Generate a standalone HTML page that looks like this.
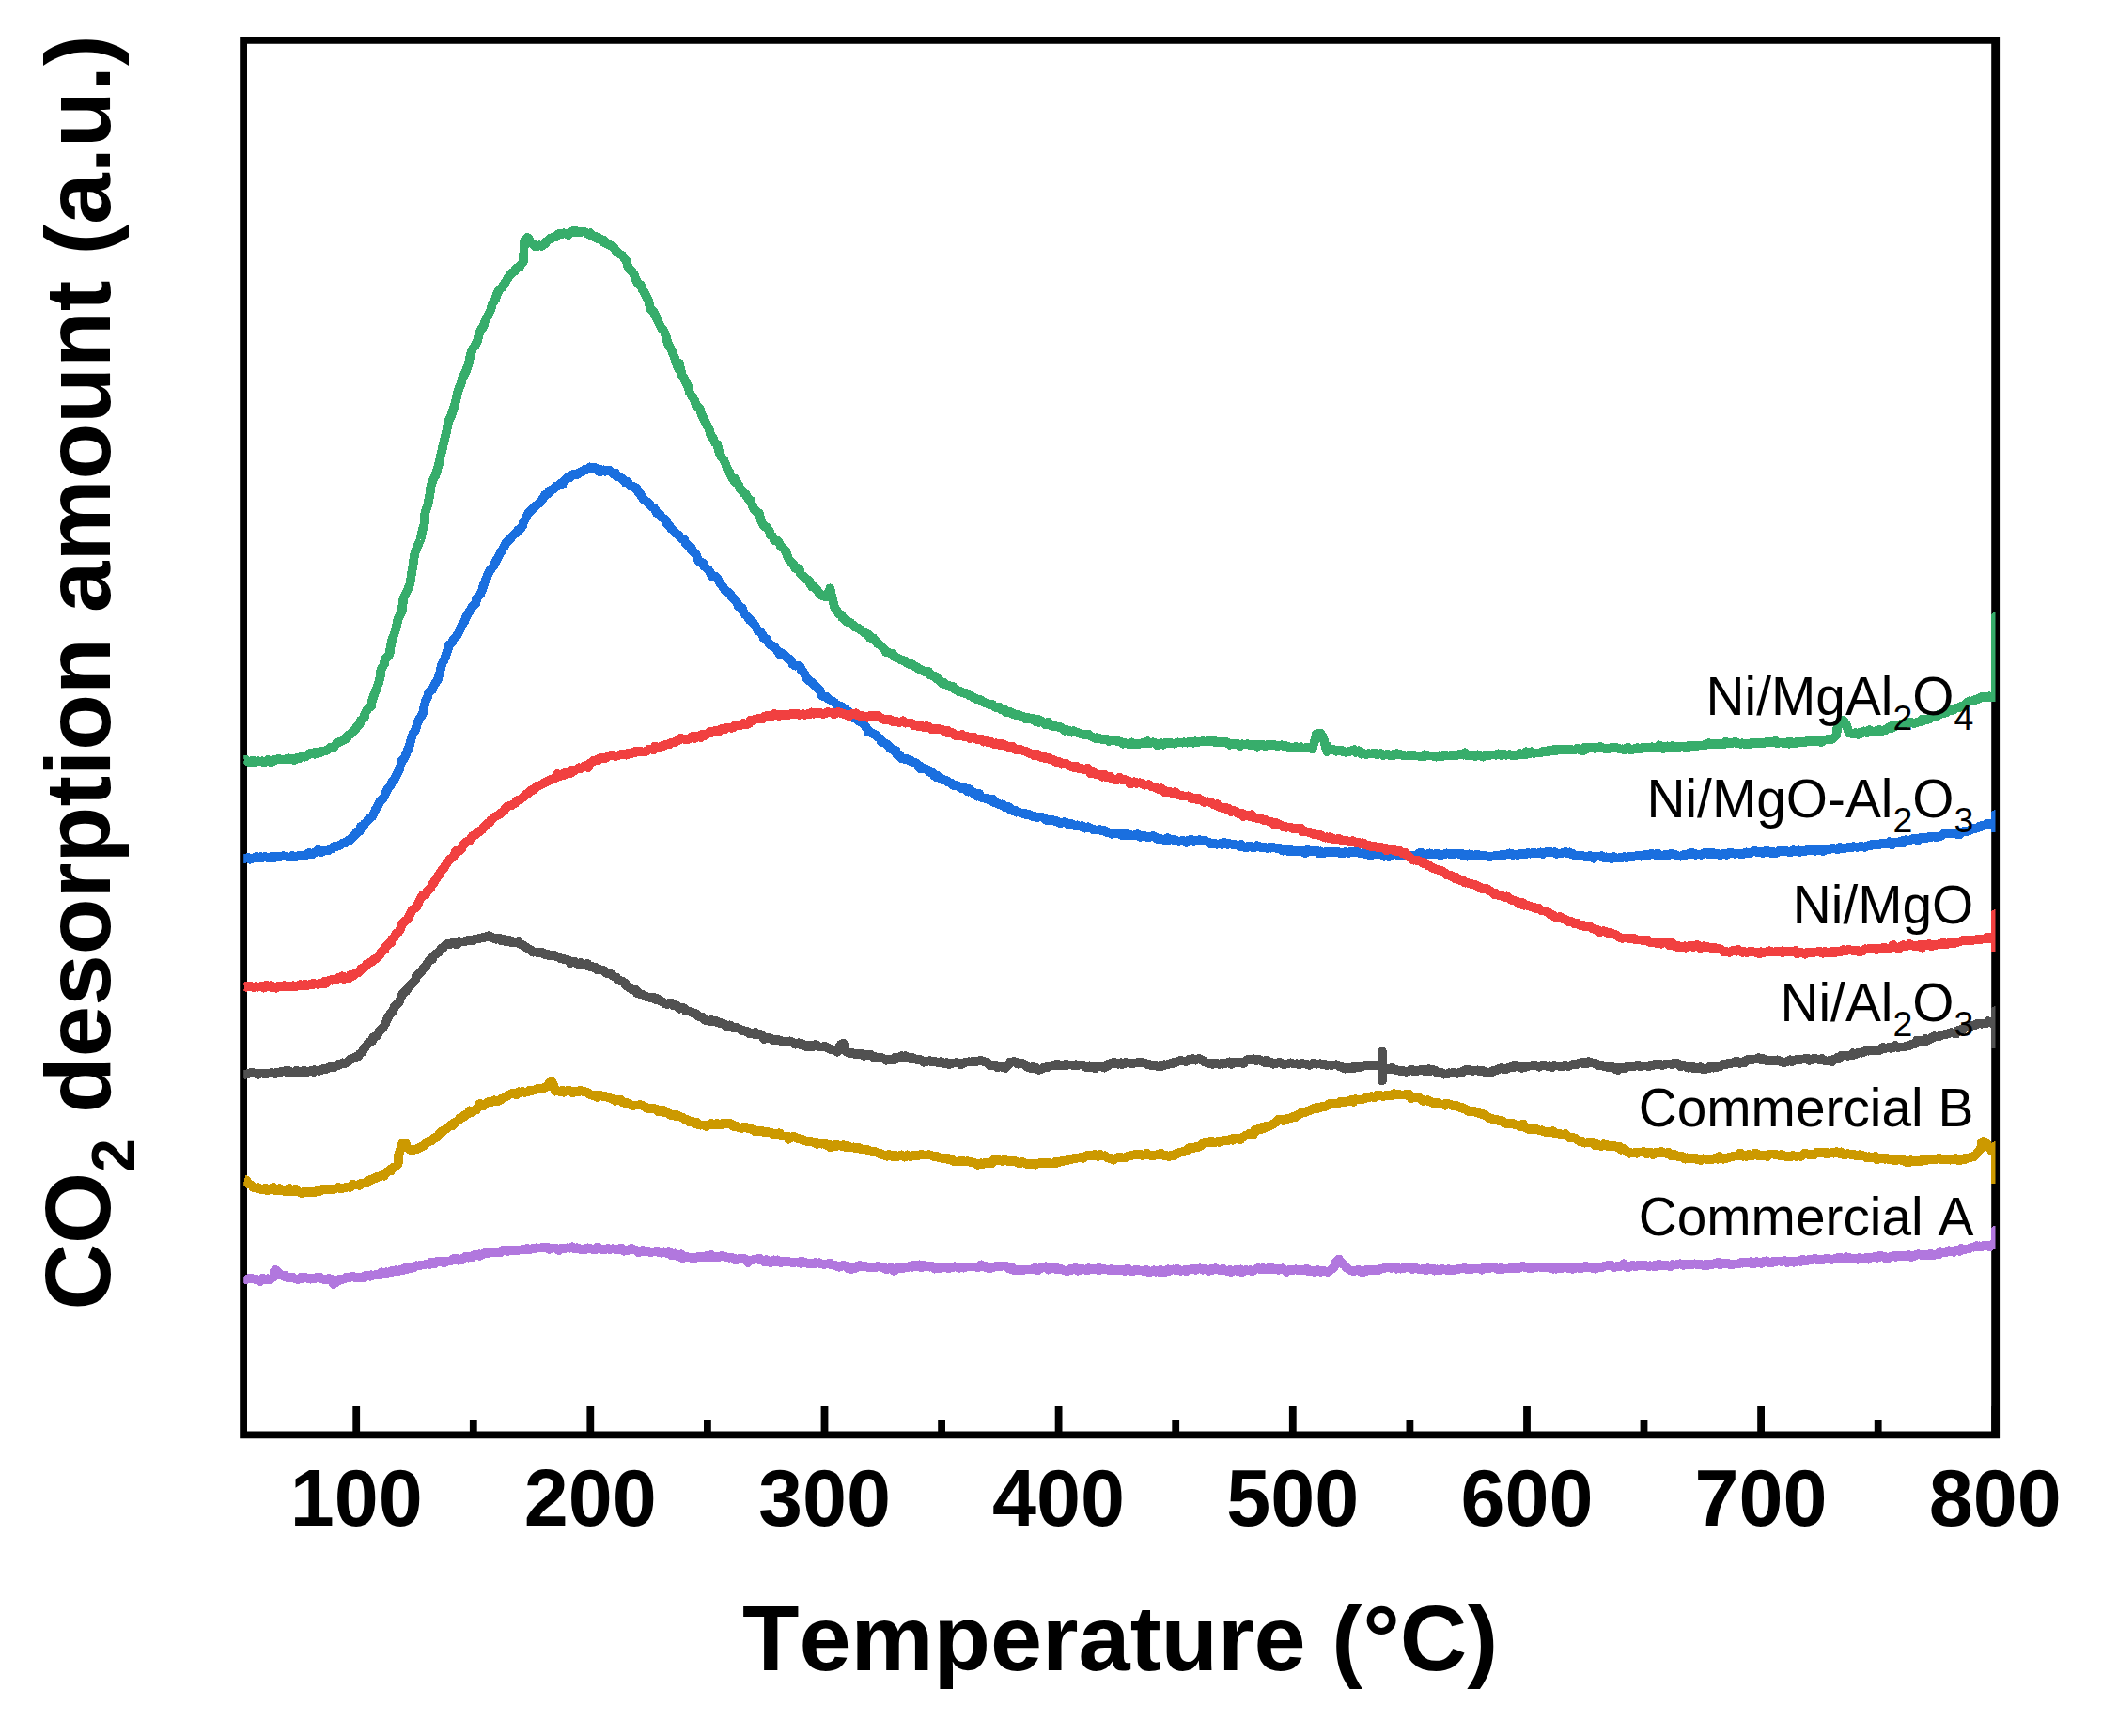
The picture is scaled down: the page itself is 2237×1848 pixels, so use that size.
<!DOCTYPE html>
<html lang="en">
<head>
<meta charset="utf-8">
<title>CO2-TPD profiles</title>
<style>
html,body{margin:0;padding:0;background:#fff;}
body{width:2237px;height:1848px;overflow:hidden;}
svg{display:block;font-kerning:none;font-family:"Liberation Sans",Arial,Helvetica,sans-serif;}
.curves polyline{fill:none;stroke-width:9.7;stroke-linejoin:round;stroke-linecap:butt;}
.ticks line{stroke:#000;stroke-width:7.8;}
.tl text{font-weight:bold;font-size:84.5px;text-anchor:middle;}
.lab text{font-size:56.8px;text-anchor:end;}
.lab .sb{font-size:37.5px;}
.title{font-weight:bold;font-size:99px;}
.title .sb{font-size:64px;}
.yt{font-size:97.9px;}
</style>
</head>
<body>
<svg width="2237" height="1848" viewBox="0 0 2237 1848">
<rect x="0" y="0" width="2237" height="1848" fill="#ffffff"/>
<defs><clipPath id="plot"><rect x="259.2" y="43.0" width="1864.3" height="1484.0"/></clipPath></defs>
<path d="M255.2 38.9H2128.1V1531.2H255.2Z M263 46.8V1523.4H2119.2V46.8Z" fill="#000" fill-rule="evenodd"/>
<g class="ticks">
<line x1="379.2" y1="1497.0" x2="379.2" y2="1527.0"/>
<line x1="503.8" y1="1512.0" x2="503.8" y2="1527.0"/>
<line x1="628.3" y1="1497.0" x2="628.3" y2="1527.0"/>
<line x1="752.9" y1="1512.0" x2="752.9" y2="1527.0"/>
<line x1="877.5" y1="1497.0" x2="877.5" y2="1527.0"/>
<line x1="1002.1" y1="1512.0" x2="1002.1" y2="1527.0"/>
<line x1="1126.6" y1="1497.0" x2="1126.6" y2="1527.0"/>
<line x1="1251.2" y1="1512.0" x2="1251.2" y2="1527.0"/>
<line x1="1375.8" y1="1497.0" x2="1375.8" y2="1527.0"/>
<line x1="1500.4" y1="1512.0" x2="1500.4" y2="1527.0"/>
<line x1="1625.0" y1="1497.0" x2="1625.0" y2="1527.0"/>
<line x1="1749.5" y1="1512.0" x2="1749.5" y2="1527.0"/>
<line x1="1874.1" y1="1497.0" x2="1874.1" y2="1527.0"/>
<line x1="1998.7" y1="1512.0" x2="1998.7" y2="1527.0"/>
<line x1="2123.2" y1="1497.0" x2="2123.2" y2="1527.0"/>
</g>
<g class="curves" clip-path="url(#plot)" shape-rendering="crispEdges">
<polyline points="258.5,1143.5 261.4,1143.8 264.0,1143.1 266.2,1142.1 267.3,1142.2 269.6,1142.1 271.8,1142.7 274.9,1143.9 275.4,1142.5 279.9,1142.6 280.9,1143.0 282.9,1142.7 285.8,1142.7 288.5,1142.0 290.2,1142.4 292.9,1143.0 294.5,1141.4 297.5,1141.8 299.7,1140.4 300.9,1140.6 304.2,1140.1 305.5,1141.2 307.7,1140.1 309.2,1141.6 311.8,1141.8 314.7,1141.7 315.5,1139.5 319.1,1141.1 321.0,1141.5 323.2,1141.6 323.7,1140.0 327.3,1140.9 330.1,1140.5 331.3,1139.9 334.1,1141.0 334.5,1139.2 338.9,1139.7 340.1,1139.7 343.4,1138.3 343.7,1138.2 347.7,1137.8 349.2,1137.0 352.2,1135.3 353.2,1135.7 355.6,1136.3 359.8,1133.0 359.8,1134.2 362.1,1133.1 364.6,1131.4 366.3,1132.4 370.0,1130.3 372.6,1127.8 373.1,1127.8 374.6,1127.3 378.8,1125.1 381.0,1124.5 383.0,1121.8 385.4,1120.0 386.2,1118.5 388.9,1114.4 390.2,1112.8 392.4,1109.9 396.3,1108.2 397.3,1104.3 401.6,1102.2 402.3,1099.6 404.0,1097.7 407.2,1094.6 410.1,1089.6 411.3,1086.9 412.3,1084.2 415.7,1078.4 418.6,1075.9 419.5,1072.2 421.5,1069.7 424.9,1066.3 426.5,1062.1 427.8,1058.8 430.5,1055.9 432.5,1054.8 435.4,1050.0 437.5,1047.7 440.4,1045.5 442.3,1042.2 442.9,1039.3 446.5,1035.9 449.0,1033.4 450.9,1030.2 453.5,1029.0 454.6,1025.9 456.5,1022.8 460.1,1021.2 460.9,1018.2 462.3,1016.8 466.7,1013.8 467.7,1012.5 470.2,1009.2 471.6,1008.8 473.9,1006.0 476.2,1004.6 478.9,1005.0 481.7,1003.8 482.0,1004.2 486.3,1005.2 487.2,1002.3 489.5,1002.3 492.9,1002.6 494.5,1002.6 495.7,1001.4 500.3,1000.9 500.6,1001.0 503.6,1000.8 505.7,999.3 508.8,999.6 509.7,999.2 512.9,998.2 513.9,998.6 517.4,997.0 518.3,997.3 520.7,996.0 524.5,998.2 525.6,998.6 527.7,999.8 531.4,998.5 532.3,999.7 533.6,1001.1 536.9,999.7 537.8,1002.2 541.6,1000.8 543.8,1003.0 544.8,1002.0 547.0,1003.3 549.7,1002.8 551.8,1002.0 553.3,1004.8 556.6,1006.3 557.0,1006.7 560.3,1008.7 562.5,1010.4 564.8,1011.1 567.4,1013.7 568.5,1013.3 572.0,1013.9 573.7,1013.7 575.5,1014.2 577.2,1013.9 579.6,1016.0 582.9,1015.6 584.1,1017.1 587.0,1017.1 589.9,1017.0 592.1,1018.2 594.7,1018.6 595.6,1019.8 597.2,1020.4 600.9,1021.3 602.6,1021.4 605.4,1022.6 606.8,1025.2 609.8,1023.6 611.8,1023.9 613.9,1025.4 616.0,1026.7 618.1,1025.1 620.2,1026.5 622.4,1026.7 625.1,1026.0 626.2,1028.7 630.0,1028.8 630.9,1029.8 633.9,1029.9 635.3,1032.2 637.4,1031.9 641.2,1032.9 641.8,1033.0 643.3,1033.5 645.9,1036.3 648.4,1036.4 652.3,1038.2 653.1,1039.4 655.9,1040.5 656.7,1042.0 659.8,1043.9 662.3,1044.8 665.3,1046.4 665.7,1048.6 668.8,1050.9 670.8,1052.1 672.1,1053.1 675.0,1053.7 677.0,1054.0 677.8,1057.1 682.0,1058.2 684.2,1058.8 685.7,1059.8 687.3,1060.9 691.4,1061.7 692.8,1062.5 695.5,1061.7 698.0,1064.3 698.8,1062.6 702.0,1064.8 703.4,1065.7 705.8,1067.1 707.9,1068.5 710.2,1069.0 713.2,1067.5 714.7,1067.7 716.7,1070.2 718.8,1069.7 721.4,1071.8 722.8,1073.7 725.2,1072.5 727.8,1073.1 729.6,1075.9 732.1,1076.5 734.0,1076.8 738.0,1078.3 739.7,1078.7 741.3,1079.5 743.2,1082.0 746.9,1083.0 747.8,1082.9 749.7,1085.8 752.2,1086.2 754.4,1086.8 757.4,1086.0 758.6,1087.2 762.3,1087.1 762.4,1087.9 765.7,1089.1 766.7,1088.9 770.9,1090.4 771.6,1091.3 774.0,1093.0 776.8,1091.4 779.3,1094.0 779.8,1094.1 782.6,1094.5 784.0,1094.0 787.3,1095.3 789.3,1097.0 791.4,1096.9 793.3,1097.9 795.7,1098.2 797.7,1100.3 800.8,1100.1 803.4,1101.3 803.7,1098.9 806.9,1101.5 808.9,1100.7 811.7,1103.5 812.9,1106.1 815.7,1105.4 817.3,1104.6 820.7,1105.5 822.5,1107.5 824.5,1106.7 827.1,1106.8 828.8,1107.3 830.1,1107.8 833.8,1108.9 835.8,1108.9 837.7,1109.1 840.7,1108.3 843.1,1109.9 843.6,1109.6 846.1,1111.7 849.9,1110.3 852.0,1111.8 852.7,1112.3 854.6,1111.4 857.2,1114.0 859.5,1114.1 860.9,1112.5 864.2,1114.0 865.5,1114.0 867.8,1111.8 871.4,1114.1 872.5,1114.3 875.1,1114.5 877.8,1113.9 880.2,1115.3 881.6,1115.8 884.0,1117.2 885.6,1117.5 889.6,1118.1 891.1,1119.8 892.0,1116.0 895.0,1111.7 897.7,1110.7 899.7,1118.6 902.9,1120.8 904.8,1121.0 905.6,1121.0 908.1,1121.2 909.5,1122.0 912.8,1121.7 914.9,1121.9 918.9,1122.4 919.3,1123.9 919.9,1123.1 923.1,1122.7 925.9,1122.8 927.1,1123.1 929.6,1125.4 932.1,1125.3 934.8,1126.1 936.7,1126.2 938.4,1126.2 941.8,1127.5 943.0,1128.7 945.3,1127.8 946.8,1128.1 949.4,1128.1 952.7,1127.8 953.3,1125.4 956.6,1125.5 959.3,1124.2 960.7,1125.1 963.4,1124.1 964.6,1125.6 968.5,1126.8 970.6,1125.8 972.2,1126.4 973.0,1127.5 975.7,1127.8 979.3,1127.9 982.0,1129.2 983.2,1130.8 986.1,1129.5 987.0,1129.9 989.5,1129.0 991.8,1130.6 994.3,1129.6 995.1,1129.8 999.1,1131.5 1001.5,1130.0 1002.0,1131.6 1004.1,1131.9 1007.4,1131.1 1008.9,1131.8 1009.9,1133.2 1014.4,1131.5 1016.1,1131.5 1017.9,1131.1 1021.9,1132.2 1022.7,1133.3 1024.3,1132.8 1027.1,1130.9 1028.5,1130.7 1030.9,1130.3 1033.9,1130.5 1035.4,1129.9 1037.7,1130.0 1041.4,1129.5 1043.0,1129.1 1045.2,1129.3 1047.2,1130.1 1049.3,1130.7 1052.2,1132.3 1053.4,1134.4 1056.9,1134.2 1057.1,1134.6 1059.8,1133.8 1061.2,1136.2 1064.2,1135.2 1067.0,1135.9 1069.8,1137.0 1070.5,1135.9 1073.2,1133.6 1075.1,1130.5 1077.1,1130.6 1079.0,1129.9 1082.0,1130.6 1083.0,1132.7 1086.5,1132.3 1088.6,1132.2 1090.3,1132.9 1092.3,1135.2 1094.2,1136.1 1098.7,1137.5 1098.7,1135.9 1102.9,1136.8 1104.4,1138.8 1105.9,1138.7 1107.6,1138.5 1111.3,1136.4 1114.0,1136.6 1114.3,1135.5 1117.0,1134.6 1120.1,1134.3 1121.8,1133.4 1125.2,1132.8 1125.6,1134.5 1128.6,1133.7 1129.5,1133.7 1134.1,1134.5 1134.3,1132.7 1135.5,1133.3 1139.1,1133.6 1141.3,1133.8 1144.9,1133.2 1145.6,1134.2 1148.0,1133.7 1150.6,1133.5 1153.5,1134.0 1154.6,1135.6 1157.5,1136.1 1159.4,1134.3 1161.0,1136.6 1163.5,1136.2 1165.6,1137.2 1167.2,1135.3 1170.8,1135.3 1171.2,1134.4 1175.2,1136.6 1177.3,1133.8 1178.7,1134.9 1180.5,1132.2 1183.0,1132.5 1185.7,1130.7 1188.1,1132.0 1190.0,1132.7 1192.7,1131.3 1193.8,1133.1 1196.6,1132.5 1197.5,1131.0 1201.3,1131.7 1203.1,1131.7 1204.9,1132.1 1208.2,1131.6 1209.8,1131.5 1210.1,1131.2 1214.0,1130.8 1215.2,1130.8 1219.1,1132.1 1222.3,1133.5 1222.4,1132.4 1225.1,1134.2 1227.0,1133.8 1229.6,1133.7 1232.1,1135.1 1234.7,1134.1 1235.3,1135.2 1239.3,1133.3 1239.7,1133.9 1242.8,1133.2 1245.6,1131.9 1247.5,1132.4 1248.5,1131.1 1250.9,1131.3 1253.3,1130.2 1255.8,1128.8 1258.8,1129.4 1259.3,1129.6 1262.7,1129.8 1265.0,1128.1 1267.2,1128.5 1269.3,1127.1 1272.3,1128.7 1273.7,1127.5 1276.2,1127.0 1278.2,1128.2 1280.9,1129.5 1281.3,1130.1 1285.3,1131.8 1286.4,1132.6 1288.6,1132.1 1290.3,1132.9 1291.9,1132.0 1295.1,1132.0 1297.1,1132.9 1300.1,1132.1 1301.0,1132.7 1305.2,1131.6 1306.6,1131.2 1308.4,1130.4 1310.3,1133.0 1312.4,1130.9 1314.4,1131.1 1317.0,1130.8 1319.6,1130.8 1321.7,1130.6 1323.0,1132.2 1326.0,1129.1 1327.8,1128.1 1330.7,1128.0 1334.1,1127.2 1335.4,1128.7 1337.0,1129.1 1338.3,1127.8 1340.6,1128.1 1342.6,1129.4 1346.5,1131.2 1347.7,1128.4 1350.4,1131.5 1352.2,1130.6 1354.9,1132.7 1358.0,1131.5 1358.7,1132.0 1361.2,1130.9 1363.0,1131.2 1366.4,1133.3 1367.3,1132.9 1369.4,1132.6 1371.4,1132.1 1373.6,1131.3 1377.1,1132.6 1380.5,1132.2 1380.8,1132.7 1384.1,1132.8 1385.8,1132.0 1387.0,1132.5 1389.8,1132.4 1392.0,1133.6 1393.9,1133.9 1397.5,1131.8 1398.0,1132.1 1401.3,1132.7 1403.4,1132.5 1405.0,1132.3 1407.7,1133.3 1410.4,1133.0 1412.1,1134.0 1414.5,1133.4 1416.9,1134.0 1417.2,1133.8 1421.8,1133.3 1424.6,1134.0 1425.9,1135.4 1428.1,1135.9 1428.6,1136.7 1431.7,1137.7 1433.4,1136.4 1435.8,1137.5 1439.1,1136.2 1440.0,1137.1 1442.7,1136.7 1443.7,1134.9 1447.1,1136.3 1449.5,1135.6 1451.1,1134.3 1453.3,1134.2 1457.3,1134.2 1457.4,1133.6 1459.7,1133.7 1462.0,1133.9 1465.6,1133.8 1468.5,1132.7 1469.4,1134.1 1470.9,1134.5 1470.9,1119.4 1470.9,1150.5 1470.9,1138.5 1473.3,1138.4 1476.5,1138.1 1477.4,1138.6 1481.2,1137.0 1483.4,1138.8 1484.6,1138.7 1487.3,1139.2 1489.5,1140.0 1492.3,1139.4 1492.7,1139.9 1496.4,1140.9 1497.5,1140.6 1499.5,1140.1 1502.3,1138.6 1504.2,1140.1 1505.9,1140.3 1507.7,1140.1 1510.3,1139.6 1514.2,1138.4 1516.8,1140.5 1518.1,1139.8 1520.6,1138.1 1521.6,1140.4 1524.1,1138.6 1526.6,1139.3 1527.8,1140.5 1530.1,1142.5 1533.1,1141.5 1535.0,1142.6 1536.7,1143.7 1539.9,1143.5 1541.6,1142.3 1544.7,1142.5 1546.2,1141.8 1548.2,1142.3 1550.7,1142.9 1552.7,1142.2 1554.5,1141.3 1556.9,1141.0 1559.9,1139.0 1562.1,1138.9 1564.7,1139.5 1564.8,1139.4 1567.9,1139.8 1570.1,1139.5 1572.7,1139.3 1574.5,1140.4 1576.6,1140.0 1579.7,1140.3 1581.5,1142.4 1582.8,1142.3 1586.7,1142.0 1588.7,1139.9 1589.8,1140.2 1593.0,1138.9 1594.1,1138.3 1597.6,1137.2 1598.8,1137.7 1600.6,1138.5 1603.1,1138.2 1605.1,1136.6 1607.9,1136.1 1610.1,1136.5 1612.2,1133.4 1614.0,1135.2 1614.0,1135.6 1618.9,1135.8 1619.7,1136.9 1623.4,1136.0 1626.2,1135.2 1627.8,1134.5 1629.5,1134.6 1631.9,1133.4 1634.1,1133.8 1636.0,1134.6 1638.2,1135.8 1640.2,1134.2 1643.8,1134.1 1645.2,1134.4 1648.1,1135.2 1649.4,1134.3 1651.9,1135.9 1653.9,1134.0 1656.5,1134.6 1659.0,1134.7 1660.8,1135.4 1662.3,1135.6 1664.5,1134.0 1668.4,1134.5 1669.2,1135.2 1671.4,1134.0 1674.8,1132.6 1676.8,1133.6 1678.6,1132.4 1680.1,1132.0 1684.2,1130.8 1685.1,1132.1 1687.4,1130.9 1689.1,1132.0 1690.4,1130.2 1692.7,1130.7 1696.1,1131.8 1698.3,1131.8 1700.0,1133.5 1701.6,1134.2 1703.6,1133.5 1706.6,1134.9 1708.0,1135.2 1711.8,1136.4 1714.2,1135.6 1717.6,1136.5 1718.4,1138.0 1719.6,1138.6 1721.6,1138.9 1722.0,1137.0 1726.2,1136.8 1728.7,1137.5 1731.7,1135.8 1733.6,1134.6 1735.8,1135.4 1737.7,1135.4 1740.3,1134.4 1743.0,1133.4 1743.5,1133.9 1746.1,1135.6 1747.6,1134.4 1751.9,1134.6 1753.9,1134.9 1755.7,1134.8 1756.6,1133.8 1759.7,1133.8 1761.6,1132.7 1764.1,1133.6 1766.1,1132.4 1768.8,1134.1 1770.3,1133.4 1773.4,1132.5 1775.2,1132.4 1777.0,1132.6 1779.3,1133.1 1781.3,1131.5 1784.4,1132.0 1785.8,1132.3 1788.4,1135.2 1790.1,1134.2 1791.6,1133.9 1795.4,1134.9 1796.3,1136.7 1799.7,1135.2 1801.7,1135.8 1802.4,1137.2 1805.1,1136.7 1807.6,1137.0 1809.6,1136.2 1811.6,1138.0 1815.1,1138.1 1816.6,1137.3 1819.3,1136.9 1820.9,1134.8 1823.6,1136.6 1825.1,1135.5 1827.8,1135.8 1830.4,1135.5 1832.2,1133.8 1834.1,1132.4 1835.8,1133.5 1838.9,1132.1 1841.2,1132.2 1843.0,1131.6 1844.9,1131.2 1848.0,1129.4 1851.5,1131.9 1851.8,1130.5 1854.4,1130.8 1856.7,1131.4 1856.8,1129.3 1860.9,1127.5 1862.5,1128.1 1866.2,1127.7 1867.2,1127.6 1869.1,1127.6 1871.6,1126.1 1874.1,1128.0 1875.8,1126.6 1878.4,1128.6 1879.7,1128.8 1882.6,1128.6 1885.5,1129.4 1888.6,1129.2 1889.9,1129.0 1891.8,1128.3 1894.6,1129.8 1896.7,1130.8 1899.4,1130.9 1901.2,1130.5 1902.5,1129.5 1905.0,1128.3 1907.1,1130.0 1909.4,1128.6 1911.5,1128.1 1913.1,1128.0 1914.3,1128.1 1917.5,1127.6 1918.8,1127.5 1922.4,1126.9 1924.6,1127.1 1925.6,1129.0 1929.5,1127.2 1931.8,1127.1 1933.5,1127.4 1936.8,1128.1 1939.1,1127.0 1939.2,1127.8 1942.9,1129.4 1944.7,1129.5 1946.9,1129.1 1949.5,1130.2 1950.5,1128.0 1952.8,1127.8 1954.8,1126.1 1957.1,1126.9 1959.7,1123.4 1961.0,1123.6 1963.5,1123.3 1966.8,1123.9 1968.6,1123.4 1971.1,1123.5 1971.7,1121.1 1974.7,1122.5 1977.0,1121.0 1979.6,1120.5 1981.4,1120.8 1984.7,1119.0 1986.2,1117.8 1988.4,1118.7 1990.6,1117.4 1993.3,1118.1 1994.7,1118.4 1998.0,1117.9 1999.7,1118.5 2001.7,1116.6 2003.8,1115.0 2006.4,1115.8 2008.9,1115.2 2011.1,1114.8 2012.9,1115.9 2015.4,1114.8 2017.1,1113.1 2020.1,1115.0 2021.4,1114.5 2022.1,1114.6 2026.7,1114.3 2028.1,1114.2 2029.4,1113.3 2032.3,1113.1 2034.0,1111.9 2038.3,1111.0 2039.3,1110.4 2040.1,1107.8 2043.8,1108.7 2045.3,1107.9 2049.1,1107.7 2049.3,1105.8 2050.6,1107.9 2054.4,1106.0 2056.4,1104.2 2058.5,1103.1 2059.5,1103.7 2063.5,1103.2 2066.3,1102.0 2066.6,1101.9 2070.6,1100.7 2071.6,1100.9 2075.8,1099.4 2076.7,1099.2 2078.5,1099.7 2081.6,1100.6 2083.4,1097.0 2084.8,1096.8 2087.9,1095.8 2089.2,1095.9 2090.5,1093.4 2095.4,1093.4 2096.0,1093.0 2098.0,1091.8 2100.8,1091.6 2101.7,1091.3 2104.1,1089.7 2106.9,1089.4 2109.0,1089.7 2111.7,1089.6 2114.6,1089.0 2115.7,1087.1 2118.5,1088.4 2120.8,1089.5 2123.5,1088.8 2123.5,1076.1 2123.5,1116.4" stroke="#515151"/>
<polyline points="257.8,912.9 260.1,913.9 264.2,913.0 266.3,914.9 266.7,913.9 270.8,913.6 272.7,912.1 274.1,913.4 277.3,912.1 277.9,913.4 280.4,912.3 282.4,912.2 284.8,913.0 288.4,913.1 289.1,912.0 291.4,913.2 293.7,911.6 296.7,911.7 298.6,911.8 301.6,911.2 302.7,911.5 304.5,911.6 307.2,912.6 309.8,912.4 311.3,911.0 314.4,912.4 317.7,910.9 318.2,911.0 320.8,911.0 323.9,910.2 324.7,911.4 326.8,909.3 328.8,907.9 332.1,909.6 334.4,907.9 336.1,907.2 338.4,904.7 341.5,907.5 343.4,906.6 344.0,905.5 347.2,905.5 349.5,905.6 352.1,903.2 353.6,903.1 355.5,901.2 357.9,900.9 359.1,900.8 362.6,899.2 364.4,897.5 367.3,897.6 368.5,896.1 371.1,894.4 372.9,894.3 375.0,891.4 378.5,888.1 379.9,885.6 382.7,885.0 383.8,879.9 386.8,879.3 387.8,877.0 390.8,874.3 393.0,871.0 396.0,869.3 397.9,865.7 399.8,861.7 402.8,856.8 404.5,852.6 406.9,850.9 409.3,847.3 410.9,843.2 413.0,838.9 415.6,836.5 417.3,832.5 420.0,829.2 422.7,823.3 424.8,820.1 426.1,815.2 427.7,809.9 430.7,806.4 432.9,800.8 435.9,794.0 437.1,788.2 439.4,781.3 442.3,776.8 443.6,771.5 446.1,765.8 449.6,760.5 451.6,752.0 453.2,745.3 455.2,741.3 456.5,736.6 459.8,734.5 461.6,730.3 463.9,726.4 465.6,724.0 468.2,716.0 470.2,707.2 472.8,702.2 475.8,693.8 477.2,689.6 478.0,686.5 480.7,684.5 482.5,680.4 485.2,678.1 488.4,672.9 490.4,668.3 491.9,665.1 494.8,660.3 496.2,656.1 498.0,653.0 500.2,650.0 502.8,645.5 506.6,642.6 506.8,637.4 510.8,633.2 513.1,628.2 514.2,624.0 516.5,618.5 518.3,614.0 520.9,607.7 523.6,604.6 525.4,602.1 528.3,596.4 530.6,592.4 532.2,589.0 534.4,585.5 536.3,582.3 538.8,577.4 540.0,576.7 543.2,573.1 545.3,570.8 546.8,569.1 551.1,566.1 551.1,564.4 553.4,563.5 556.4,559.1 557.0,555.9 560.0,550.8 561.7,547.2 564.3,543.9 567.1,541.4 569.6,538.9 572.3,536.8 574.3,535.1 576.8,532.0 578.6,529.4 580.0,526.6 583.3,525.5 584.4,522.7 586.5,521.7 590.2,519.9 591.9,517.7 593.7,517.6 596.3,514.6 598.6,515.9 599.2,513.2 602.3,510.5 603.7,508.2 606.8,508.1 608.5,505.2 612.1,505.2 613.7,505.6 615.0,504.0 617.7,502.6 619.1,502.5 622.2,499.8 624.7,499.8 626.7,498.3 627.4,497.4 630.7,498.6 633.5,498.0 635.6,500.8 638.4,499.7 638.9,502.4 642.3,500.4 643.7,501.8 646.5,500.6 648.8,501.0 651.2,502.9 652.6,504.2 655.3,503.9 656.5,507.3 658.6,507.0 662.1,509.5 663.9,511.5 665.0,513.3 667.8,513.0 670.6,517.3 673.8,517.9 675.7,518.7 677.7,520.1 678.1,522.2 681.5,526.1 684.1,530.4 686.2,532.5 688.5,534.0 690.2,535.9 693.8,539.8 695.8,540.4 696.9,541.8 698.5,545.8 702.8,547.8 703.2,549.9 706.6,552.3 709.3,554.2 709.5,556.9 712.6,559.8 714.3,562.6 717.1,564.9 719.2,567.6 722.5,569.9 723.8,572.1 725.6,573.5 728.5,574.9 729.8,578.6 731.9,580.5 735.9,583.5 736.0,586.2 738.4,588.2 741.0,590.8 742.4,594.5 743.9,597.5 748.3,599.3 749.2,602.6 751.6,604.6 753.9,606.5 755.7,609.3 757.8,613.3 760.9,613.4 764.6,617.4 765.7,620.0 767.9,622.8 768.5,623.4 771.7,628.1 773.1,629.4 776.7,631.6 778.2,634.4 780.6,637.4 782.7,639.6 784.6,642.1 786.1,645.9 789.8,647.0 790.6,649.9 792.9,654.1 795.8,656.8 797.7,659.9 800.5,661.2 803.3,665.6 804.9,668.3 807.1,671.9 809.2,672.4 812.0,676.4 812.3,678.8 816.0,680.2 817.3,683.4 819.3,686.5 822.4,687.3 824.3,689.0 827.2,692.2 829.5,696.3 829.7,694.1 833.3,696.5 836.9,698.9 838.4,701.6 841.0,701.8 842.2,703.4 843.4,706.7 845.8,708.7 849.3,708.6 851.6,709.7 852.6,713.1 855.2,716.0 857.7,719.9 858.5,722.6 861.7,725.1 865.3,727.4 867.9,730.5 868.5,731.4 872.0,734.3 872.6,735.7 874.6,740.5 875.8,741.0 880.2,742.0 881.5,744.0 885.6,746.1 886.4,746.4 888.5,748.3 889.3,749.3 893.8,751.9 894.7,751.9 897.0,753.2 897.8,754.4 902.2,756.9 904.5,759.6 905.5,761.6 908.2,764.5 910.6,764.7 913.2,767.3 914.8,768.0 918.2,770.0 919.0,770.3 920.9,772.8 923.2,776.5 924.0,779.4 927.4,780.0 930.9,782.1 932.5,782.9 934.0,784.7 937.0,786.2 937.5,789.5 941.0,790.8 943.7,792.2 946.1,794.4 947.2,796.7 950.6,798.2 953.5,799.0 954.1,802.9 957.1,803.3 957.7,804.8 959.6,807.2 963.6,808.0 965.4,808.1 967.7,809.7 969.4,809.8 971.8,811.5 974.7,812.0 977.6,816.2 978.4,814.9 979.6,818.1 983.9,817.9 985.6,818.6 987.8,820.2 989.7,822.0 993.4,823.2 994.0,825.5 996.5,825.4 997.1,827.5 1000.2,827.2 1002.3,829.8 1004.9,830.2 1007.4,831.1 1008.8,832.5 1012.8,833.7 1013.0,834.9 1015.6,836.3 1018.3,836.2 1019.5,836.9 1023.0,839.2 1025.2,837.9 1026.8,839.9 1030.5,842.7 1031.4,839.9 1033.8,842.3 1035.1,844.3 1036.8,843.6 1039.7,847.7 1042.1,844.7 1044.2,849.0 1047.3,849.4 1047.3,849.7 1050.4,849.8 1052.1,851.0 1056.5,850.9 1057.4,853.9 1059.6,853.7 1061.4,855.2 1065.0,856.9 1066.3,856.3 1068.9,857.6 1069.5,859.1 1074.0,859.2 1075.6,862.4 1078.0,862.9 1080.6,862.6 1081.8,864.7 1084.0,864.5 1086.9,865.4 1088.9,866.2 1090.6,865.8 1093.0,867.4 1094.8,866.8 1097.9,868.8 1100.2,868.6 1101.8,869.8 1105.1,870.0 1105.3,869.6 1108.2,869.4 1111.8,871.0 1112.5,871.9 1113.8,873.2 1118.1,873.0 1119.7,873.1 1120.7,873.2 1124.3,874.3 1125.2,874.2 1127.2,875.9 1130.3,875.8 1132.2,875.1 1134.0,875.5 1136.7,877.4 1138.5,877.3 1141.4,877.3 1143.6,878.9 1146.3,878.3 1147.6,879.4 1149.2,879.7 1151.4,879.0 1154.4,881.7 1157.8,880.2 1159.6,881.3 1160.7,881.5 1164.0,883.5 1164.8,883.3 1168.5,883.7 1169.7,882.8 1172.7,884.4 1174.8,883.5 1176.4,885.4 1179.0,886.3 1180.2,886.2 1183.1,887.9 1186.1,887.2 1190.3,887.1 1190.4,887.4 1192.0,887.4 1193.5,889.0 1197.1,889.1 1197.4,887.2 1200.2,889.5 1203.2,889.0 1204.3,889.5 1208.4,889.1 1210.3,888.2 1211.4,888.3 1213.6,890.9 1215.2,890.0 1217.4,889.4 1220.9,891.1 1223.2,891.1 1225.2,890.3 1227.4,890.1 1229.0,890.7 1231.8,893.1 1232.7,893.1 1236.0,893.3 1239.2,894.1 1241.3,894.7 1242.2,892.1 1244.5,893.7 1247.9,893.6 1250.3,894.8 1250.4,893.9 1253.3,895.7 1255.9,895.7 1258.8,894.6 1259.6,895.0 1262.8,897.0 1264.4,894.4 1268.4,894.1 1269.3,895.7 1271.1,895.8 1273.1,895.5 1276.3,894.1 1278.2,895.5 1279.2,894.6 1282.3,894.7 1283.4,895.5 1286.0,896.6 1287.9,898.0 1290.0,897.8 1292.7,897.8 1294.7,898.8 1297.9,898.2 1300.3,898.9 1301.8,897.1 1303.4,896.9 1306.9,898.9 1307.1,897.5 1309.4,898.5 1313.5,899.1 1315.6,899.3 1318.1,899.8 1319.4,901.5 1320.9,898.8 1323.6,901.6 1326.6,902.6 1327.8,900.8 1330.1,900.7 1331.8,901.1 1334.2,902.5 1337.8,900.2 1339.7,901.2 1340.8,901.2 1343.0,902.4 1345.6,902.0 1348.6,902.8 1349.5,902.3 1352.5,902.7 1353.3,901.9 1356.1,902.2 1359.5,903.1 1362.0,903.3 1362.8,903.2 1365.2,905.7 1368.5,904.7 1369.9,903.9 1372.0,906.5 1374.9,905.1 1376.9,906.2 1379.8,906.1 1381.7,906.1 1383.0,906.5 1385.5,905.9 1387.7,906.8 1389.0,908.2 1391.5,904.9 1395.1,906.1 1395.5,906.6 1399.5,905.4 1401.2,905.5 1403.1,908.3 1405.7,906.4 1407.9,908.5 1410.6,907.2 1411.7,906.4 1414.0,907.0 1416.2,907.0 1419.9,907.2 1421.4,907.0 1422.3,907.0 1424.9,907.2 1426.9,908.3 1429.6,908.2 1431.9,906.9 1434.9,908.0 1435.6,907.3 1439.1,907.3 1440.9,907.3 1442.3,906.9 1444.9,907.3 1446.8,908.2 1449.4,908.6 1452.3,907.8 1452.7,909.0 1456.9,908.1 1457.9,910.7 1461.4,909.5 1462.9,909.3 1465.6,909.2 1467.4,906.8 1469.9,909.2 1471.4,910.0 1473.0,911.6 1476.2,908.9 1478.5,912.1 1481.0,910.7 1481.6,910.3 1484.4,908.4 1487.5,910.5 1488.1,910.1 1491.0,910.9 1494.9,910.5 1496.6,909.3 1497.2,911.1 1501.0,910.9 1503.0,910.8 1504.9,910.6 1506.8,910.7 1508.9,909.7 1510.4,908.2 1512.8,907.8 1515.9,910.2 1517.7,909.7 1521.1,908.8 1521.7,908.4 1522.5,909.1 1526.1,909.5 1528.8,909.0 1531.0,908.8 1533.0,911.0 1534.6,909.7 1538.4,909.0 1539.1,908.3 1542.3,908.5 1543.8,909.6 1545.3,909.4 1548.8,908.7 1549.4,908.3 1552.2,908.8 1555.3,908.5 1556.9,910.6 1559.9,910.2 1561.5,911.8 1563.5,909.3 1567.5,910.4 1568.0,911.1 1570.3,910.2 1571.8,909.9 1574.3,910.4 1577.4,910.9 1579.6,911.1 1581.4,911.0 1583.1,911.9 1586.3,912.1 1586.8,911.5 1589.9,911.5 1592.2,910.7 1594.0,910.9 1596.9,910.6 1598.5,909.8 1600.6,909.9 1604.6,909.5 1606.1,908.3 1608.6,908.9 1610.0,910.1 1612.9,909.4 1614.9,910.1 1617.4,908.7 1620.4,909.0 1620.8,909.4 1623.4,909.2 1625.1,908.5 1625.4,908.0 1628.8,908.7 1632.0,907.4 1634.6,908.5 1636.0,908.6 1639.4,907.3 1641.7,909.1 1642.7,907.5 1646.2,907.2 1648.6,907.0 1649.9,906.6 1651.1,907.5 1655.0,907.2 1656.1,908.9 1658.1,908.6 1660.7,908.6 1662.4,908.0 1665.7,906.9 1667.7,907.9 1670.3,907.3 1672.0,909.0 1673.2,908.7 1675.9,910.6 1678.8,910.4 1680.1,911.1 1684.6,911.3 1684.6,911.0 1686.6,912.0 1690.0,912.3 1691.9,910.8 1693.6,911.9 1695.6,913.7 1698.3,911.5 1700.8,911.5 1702.9,911.8 1704.4,911.0 1707.1,913.0 1709.6,912.3 1711.2,913.2 1711.7,912.4 1715.0,914.3 1717.3,911.8 1719.8,913.4 1722.3,913.4 1725.0,913.1 1727.0,912.9 1728.7,912.1 1731.0,913.0 1734.4,911.9 1735.0,911.6 1737.8,911.9 1740.9,911.5 1742.2,910.6 1742.8,910.5 1746.7,911.7 1748.3,910.8 1750.7,910.1 1753.7,909.7 1755.5,910.0 1757.2,908.9 1760.2,909.7 1762.1,909.9 1764.1,908.5 1766.4,910.4 1768.6,910.8 1770.4,910.5 1772.5,909.6 1775.0,911.1 1776.5,909.2 1778.5,909.1 1782.5,909.4 1783.6,910.1 1786.0,911.2 1788.1,911.7 1790.4,910.9 1792.6,909.5 1794.8,910.0 1796.4,909.2 1799.9,909.3 1800.9,907.7 1804.3,909.1 1804.5,909.8 1807.3,909.4 1810.9,909.8 1812.3,908.8 1814.1,908.0 1817.1,908.0 1818.3,909.3 1821.3,909.0 1821.8,907.6 1825.3,909.1 1827.3,908.4 1830.4,910.2 1832.8,909.7 1833.8,908.7 1837.7,909.9 1838.4,908.5 1839.6,907.9 1841.5,907.4 1846.5,908.9 1847.5,908.5 1849.3,908.5 1851.5,908.5 1853.4,909.6 1857.3,907.9 1858.5,907.3 1862.1,908.5 1862.9,908.0 1863.6,907.3 1868.0,905.6 1869.3,906.7 1871.6,907.4 1875.1,906.8 1876.0,908.1 1879.2,905.6 1880.6,907.3 1882.3,906.3 1885.4,908.2 1886.8,907.0 1890.3,908.0 1892.3,906.6 1893.8,905.6 1896.4,905.8 1898.6,905.8 1900.2,905.4 1903.2,906.9 1904.6,907.3 1907.4,906.5 1908.5,905.1 1911.5,905.9 1913.9,905.2 1915.2,907.1 1917.7,905.7 1919.8,906.3 1922.9,905.4 1924.1,904.3 1927.1,905.3 1930.1,904.9 1931.5,906.0 1932.3,905.5 1935.7,904.6 1938.5,904.8 1939.8,906.2 1943.0,904.3 1944.8,904.0 1946.9,904.0 1948.6,903.0 1950.6,903.1 1953.0,903.4 1955.5,904.5 1958.0,901.8 1960.1,903.4 1961.8,903.2 1964.3,902.7 1966.7,902.2 1967.5,902.2 1970.3,902.5 1972.4,901.1 1975.1,901.6 1977.2,901.8 1979.4,901.0 1981.2,901.0 1984.5,901.8 1986.4,900.7 1987.3,900.3 1990.6,900.1 1992.0,899.1 1996.2,899.0 1996.9,898.6 1999.1,899.4 2001.7,898.0 2003.7,897.5 2006.0,898.4 2009.3,898.2 2010.6,896.2 2013.2,899.4 2015.6,897.5 2016.3,896.9 2020.4,897.3 2021.9,896.2 2024.3,895.0 2025.2,897.4 2028.6,894.1 2030.5,894.6 2032.0,894.7 2036.2,892.9 2037.2,893.0 2038.8,893.3 2041.3,894.5 2044.1,891.7 2046.4,892.2 2048.2,892.4 2050.9,891.7 2053.2,890.6 2053.5,891.6 2056.3,890.5 2058.2,890.7 2061.1,890.9 2064.2,890.6 2065.9,889.5 2066.9,889.1 2069.6,887.1 2072.7,887.4 2073.8,887.3 2076.3,887.0 2078.8,887.3 2079.5,886.6 2083.6,888.4 2085.5,888.2 2087.8,885.7 2088.9,885.8 2091.3,884.4 2093.6,884.8 2096.4,883.8 2098.5,882.8 2100.7,881.8 2104.1,881.7 2105.9,880.0 2106.7,880.6 2109.0,878.7 2112.8,878.8 2113.6,877.2 2117.0,877.4 2119.3,876.4 2120.0,877.2 2123.5,876.4 2123.5,867.0 2123.5,886.1" stroke="#1A6FDF"/>
<polyline points="259.9,1050.5 261.8,1050.8 262.4,1049.9 266.2,1049.9 268.4,1050.4 269.8,1051.2 272.5,1050.2 274.8,1050.7 276.4,1050.4 278.6,1049.7 280.7,1051.7 283.2,1048.6 284.7,1049.7 287.7,1050.8 288.9,1049.2 292.2,1051.0 294.3,1051.8 295.9,1049.9 299.4,1050.3 302.3,1049.1 304.1,1050.0 304.4,1049.5 308.5,1049.6 309.9,1050.4 311.9,1049.3 313.8,1050.3 316.4,1049.7 319.5,1048.0 321.2,1049.0 322.7,1049.4 324.7,1047.5 327.1,1049.0 330.0,1048.0 333.1,1048.2 333.2,1046.8 336.2,1047.5 338.1,1047.8 340.1,1046.9 343.1,1046.8 345.4,1044.6 346.2,1047.1 348.7,1044.6 352.4,1043.2 354.0,1043.7 356.3,1042.6 357.8,1042.7 360.1,1040.8 362.9,1041.1 364.4,1039.2 366.2,1042.1 369.2,1040.5 372.0,1041.0 372.9,1038.0 376.5,1038.7 378.5,1035.9 379.6,1036.0 382.4,1034.7 384.5,1031.2 387.2,1030.0 389.4,1028.5 390.3,1026.3 392.4,1025.4 396.3,1023.3 397.9,1021.3 400.3,1020.6 402.4,1018.8 405.4,1014.8 405.7,1013.4 409.5,1010.9 410.4,1007.6 413.7,1004.7 416.3,1003.5 416.6,1000.2 420.1,997.2 421.8,993.7 424.0,992.3 426.4,988.6 427.8,983.9 430.1,981.1 433.4,979.1 435.8,974.3 437.0,972.5 438.6,969.0 443.4,965.3 444.7,962.5 446.4,958.7 447.7,956.2 450.2,952.4 452.9,952.6 454.3,949.0 458.3,945.5 459.5,942.1 461.8,939.4 463.1,936.9 465.3,933.7 467.6,930.7 470.6,925.9 472.4,924.4 474.6,920.3 477.2,916.7 479.3,914.1 482.4,912.4 483.4,910.3 485.1,905.9 488.0,906.2 491.2,903.6 492.0,900.3 494.6,897.9 496.5,896.2 499.3,895.1 501.4,892.2 502.8,889.8 505.4,889.2 508.4,885.4 510.7,885.1 512.8,883.4 515.0,880.6 516.3,878.9 518.5,876.7 521.6,875.2 522.4,873.4 525.3,870.7 526.3,869.5 529.5,868.0 531.5,866.9 533.3,865.3 536.8,862.6 538.1,860.0 540.5,858.3 542.8,857.5 544.7,857.1 548.4,854.9 549.2,853.1 551.9,851.4 553.1,851.4 555.9,849.4 558.2,847.2 560.4,845.3 562.4,844.4 565.1,841.2 568.2,840.7 569.3,839.0 571.5,836.9 573.5,836.6 577.7,834.3 579.3,833.2 580.8,832.9 583.1,831.2 584.3,830.8 586.9,829.6 589.3,828.9 591.5,828.1 593.0,824.0 595.2,826.5 598.3,824.1 600.4,824.9 600.9,823.0 604.6,822.9 607.7,822.8 608.5,819.7 611.3,820.5 612.4,819.7 616.1,817.4 617.0,818.5 619.1,817.2 622.0,815.6 626.0,814.5 626.2,817.0 627.9,812.7 631.3,809.9 633.3,809.7 636.5,809.2 636.7,807.9 638.7,807.6 641.8,806.4 644.4,807.1 646.6,805.5 649.3,804.2 649.8,804.4 652.4,804.1 655.1,805.0 658.0,804.2 659.9,803.2 661.5,803.1 663.3,803.2 666.8,803.7 669.0,801.4 672.4,801.9 672.7,801.6 676.1,800.0 676.3,800.8 679.0,800.4 681.1,799.7 683.5,800.6 685.4,800.3 687.8,799.8 690.3,797.9 692.3,797.4 695.2,798.2 696.9,794.7 699.2,795.4 702.4,795.5 703.8,794.3 705.9,794.0 708.0,792.9 710.2,792.5 712.8,792.4 714.0,790.7 717.6,790.2 720.1,789.1 722.0,788.1 723.0,787.7 724.5,785.7 727.5,786.6 730.1,787.3 732.7,786.8 734.3,785.6 736.4,784.1 739.8,785.9 740.5,783.4 743.9,783.8 746.0,785.2 746.7,781.8 750.0,783.0 751.6,781.9 753.5,780.7 755.1,779.1 757.5,779.9 761.1,777.9 762.7,778.7 765.4,778.6 766.7,776.2 769.4,776.3 771.6,776.4 772.9,775.0 775.0,774.5 778.7,774.8 780.7,774.0 782.1,772.0 784.9,772.5 787.6,772.5 790.6,770.4 791.0,769.8 794.2,771.2 797.4,770.2 798.2,767.0 800.8,767.2 801.4,766.5 805.8,765.2 807.0,765.4 807.9,764.9 811.9,765.2 814.3,762.4 816.6,762.0 818.8,761.8 820.2,763.2 821.9,761.8 824.3,760.0 826.8,761.5 829.3,761.9 830.8,760.7 833.4,760.7 836.2,761.1 838.0,761.5 841.6,760.0 843.6,759.8 843.7,760.4 846.2,759.6 847.9,759.6 850.2,760.8 853.6,760.3 854.7,760.2 856.9,760.9 859.6,760.1 862.5,760.1 863.9,758.4 866.1,759.8 869.2,758.8 871.1,758.8 873.3,758.9 875.8,760.0 876.7,760.0 879.7,758.6 881.3,758.0 884.7,758.8 886.7,758.6 887.7,760.3 891.5,758.1 892.0,757.9 895.8,759.4 897.3,759.7 898.8,760.2 900.8,760.7 903.6,762.2 906.0,760.2 907.7,760.2 910.8,759.3 911.6,761.1 914.8,761.9 917.0,761.6 917.9,763.1 921.6,762.6 922.7,763.8 924.1,762.6 927.6,761.5 930.0,762.2 933.0,761.6 934.2,761.8 937.8,764.4 940.0,765.3 941.9,766.4 944.3,765.9 945.8,766.5 947.4,766.1 950.4,768.4 952.8,768.4 954.5,767.9 956.4,769.0 957.7,769.0 961.4,767.3 963.4,769.7 964.5,769.6 967.6,769.5 970.3,769.9 971.9,772.1 974.7,772.5 976.9,773.1 977.6,771.5 980.6,772.8 983.3,774.4 985.8,773.1 988.3,773.4 988.4,773.9 991.7,776.4 994.5,776.3 997.0,776.2 999.5,776.2 999.9,776.3 1002.5,776.6 1004.3,778.2 1007.7,777.5 1008.5,780.2 1012.4,779.9 1014.4,780.6 1016.3,782.8 1016.7,782.4 1019.9,783.3 1023.1,782.8 1023.8,781.8 1026.8,784.5 1029.1,783.8 1032.0,786.0 1033.8,784.4 1036.0,784.3 1037.7,786.6 1040.2,787.1 1042.3,787.5 1045.1,786.9 1046.7,789.6 1049.7,788.3 1050.0,789.8 1054.2,789.7 1055.5,790.8 1058.6,792.3 1060.0,791.3 1062.8,792.4 1065.4,793.6 1066.2,791.9 1068.8,792.7 1070.9,794.2 1073.3,794.8 1074.3,796.0 1077.5,794.8 1079.6,797.7 1081.4,798.4 1084.0,798.4 1085.3,797.5 1089.5,799.5 1091.1,799.7 1094.3,800.9 1094.6,801.2 1096.6,802.6 1099.8,802.6 1100.6,804.6 1104.1,802.7 1105.7,804.2 1108.1,806.2 1110.8,804.9 1112.8,807.6 1116.3,806.5 1117.6,808.4 1118.5,808.3 1122.3,809.4 1122.8,810.7 1126.0,810.9 1127.3,811.0 1129.8,813.7 1133.5,812.7 1134.4,812.6 1136.5,814.7 1138.8,815.2 1141.2,816.5 1144.6,817.2 1145.0,815.6 1147.1,817.9 1150.6,818.5 1151.3,818.1 1154.3,819.2 1157.6,817.5 1159.0,820.7 1160.8,823.6 1162.9,821.6 1164.9,823.5 1167.4,824.5 1170.1,824.9 1173.0,826.7 1175.0,824.4 1176.2,826.3 1178.3,827.6 1181.5,826.5 1181.9,827.7 1185.1,829.9 1187.3,830.2 1189.0,830.0 1191.3,827.7 1194.4,830.2 1195.2,830.6 1197.9,830.1 1200.3,831.0 1203.0,834.6 1204.2,832.4 1208.1,832.3 1209.3,834.0 1211.6,833.4 1213.7,833.3 1215.7,834.2 1217.7,835.7 1221.4,835.5 1222.9,835.1 1224.9,836.9 1227.8,837.7 1228.9,837.4 1232.0,839.7 1233.8,840.3 1235.3,839.1 1238.7,841.1 1239.3,843.1 1243.0,843.2 1244.1,842.4 1247.2,844.2 1250.1,843.3 1251.7,843.5 1253.1,845.8 1255.7,846.5 1257.7,847.2 1259.3,847.3 1261.6,847.6 1264.6,847.3 1267.1,848.6 1267.7,850.0 1271.1,849.7 1273.7,851.1 1275.6,849.8 1277.1,851.1 1280.7,852.8 1281.3,854.0 1284.8,853.3 1287.3,853.4 1287.6,853.6 1291.1,855.9 1293.4,857.0 1295.5,856.2 1297.0,858.8 1299.5,859.6 1301.0,860.1 1304.2,859.6 1306.7,861.9 1308.1,861.1 1310.1,864.0 1312.6,863.3 1315.1,863.3 1317.4,866.0 1319.5,866.5 1321.8,865.9 1323.0,869.0 1324.3,867.0 1328.8,868.5 1331.5,869.5 1331.8,867.3 1334.5,870.6 1337.3,870.7 1340.0,871.3 1342.0,871.3 1344.6,873.0 1345.9,872.8 1348.4,873.4 1350.6,874.6 1352.2,874.7 1355.6,877.6 1357.4,875.5 1359.8,876.7 1361.1,877.8 1364.2,878.8 1365.0,880.1 1368.2,880.9 1368.3,880.3 1371.6,880.4 1375.0,881.1 1376.4,882.1 1379.1,882.5 1380.0,882.1 1384.4,881.5 1385.9,885.2 1387.7,885.0 1390.2,885.3 1392.4,886.0 1395.3,886.3 1396.7,887.1 1397.7,888.1 1400.8,888.6 1404.0,888.8 1405.7,889.0 1407.2,890.3 1410.1,891.7 1412.0,891.2 1414.5,892.3 1415.2,891.1 1417.9,892.9 1421.2,893.4 1422.8,893.3 1425.4,893.0 1428.7,894.9 1429.3,894.4 1431.9,895.6 1433.5,894.9 1435.7,896.3 1438.3,895.8 1439.5,895.0 1441.3,896.7 1445.9,897.0 1447.1,897.9 1450.1,897.3 1451.6,897.8 1453.8,899.4 1456.4,900.2 1458.6,900.2 1459.5,901.2 1463.4,901.1 1464.1,901.6 1467.1,901.9 1470.9,902.3 1471.4,902.6 1474.7,902.8 1475.5,905.2 1478.4,903.7 1480.2,903.9 1482.6,904.2 1483.9,905.5 1486.1,906.1 1489.2,905.8 1490.1,906.1 1492.8,908.4 1496.0,907.9 1497.3,910.6 1499.3,911.7 1501.4,913.6 1504.4,915.7 1506.3,915.6 1508.8,916.0 1510.8,916.8 1514.4,918.1 1515.0,919.3 1516.2,918.4 1519.8,921.4 1521.9,922.0 1524.2,923.7 1525.2,924.1 1529.3,925.7 1530.7,925.7 1532.9,926.7 1534.1,926.7 1537.7,929.2 1539.5,931.6 1542.7,931.5 1543.6,932.7 1545.3,932.3 1548.4,935.4 1549.9,934.0 1553.0,936.5 1554.2,937.2 1557.0,937.4 1559.2,939.7 1561.5,939.6 1563.4,940.4 1565.4,940.9 1568.1,941.5 1569.9,941.9 1572.6,943.7 1574.5,944.1 1575.4,945.7 1579.1,945.9 1582.3,946.0 1583.7,947.5 1586.1,948.3 1588.2,950.0 1589.8,951.9 1591.4,950.7 1595.1,953.3 1597.4,952.5 1599.3,954.0 1601.4,955.3 1603.6,954.3 1605.5,955.4 1607.9,957.8 1609.9,958.3 1612.4,959.0 1613.7,959.4 1616.1,962.2 1619.1,960.9 1620.7,961.1 1621.5,963.7 1625.4,963.6 1626.0,963.9 1631.0,965.7 1632.4,965.7 1634.6,967.0 1635.9,967.2 1637.8,967.0 1640.6,969.5 1642.9,969.6 1644.6,969.7 1647.4,971.2 1650.0,973.6 1652.1,973.7 1653.2,975.1 1654.7,976.1 1658.3,976.5 1660.1,976.0 1663.0,978.2 1666.0,979.0 1668.2,979.9 1669.5,981.4 1672.3,981.0 1674.8,982.1 1676.0,983.4 1678.3,982.5 1680.9,984.6 1682.5,985.2 1684.4,984.6 1686.4,986.1 1689.1,985.8 1690.9,985.4 1694.1,987.9 1695.5,988.7 1698.9,989.6 1701.0,990.3 1701.5,991.9 1705.3,991.6 1706.5,991.1 1709.9,992.4 1711.5,993.3 1713.3,992.7 1716.0,993.9 1717.4,994.4 1720.2,995.4 1722.4,997.3 1724.2,998.0 1726.8,998.9 1728.1,998.6 1731.3,998.5 1732.3,998.5 1735.8,999.3 1737.9,998.5 1740.2,1000.2 1741.6,1000.3 1746.2,1000.5 1746.2,1000.7 1748.7,1000.9 1750.2,1001.4 1753.9,1000.9 1754.8,1002.8 1758.0,1002.5 1758.9,1003.1 1762.0,1003.8 1763.7,1004.5 1766.8,1003.5 1768.2,1004.7 1770.0,1003.6 1773.1,1002.6 1774.2,1003.0 1776.5,1006.5 1779.9,1003.9 1780.3,1006.2 1784.3,1007.9 1785.7,1006.6 1787.6,1008.0 1790.5,1008.1 1793.0,1007.3 1794.4,1008.7 1796.8,1007.2 1799.7,1006.5 1801.9,1008.0 1803.5,1007.0 1805.3,1006.0 1807.3,1006.3 1809.8,1009.5 1812.8,1007.3 1815.0,1007.9 1817.0,1008.0 1819.9,1008.7 1821.0,1008.7 1823.1,1009.0 1825.3,1009.1 1828.6,1010.3 1829.0,1009.4 1832.4,1011.5 1834.7,1013.4 1836.6,1012.9 1840.3,1013.9 1841.8,1013.0 1843.7,1012.7 1844.8,1011.7 1847.9,1012.7 1849.5,1010.8 1852.0,1012.5 1854.3,1013.9 1856.1,1013.0 1859.0,1014.1 1861.9,1013.0 1863.7,1012.4 1865.3,1013.0 1866.1,1013.2 1870.3,1014.5 1872.5,1015.4 1873.9,1013.2 1875.9,1013.7 1878.8,1013.7 1880.1,1013.3 1883.3,1012.2 1884.3,1013.0 1886.6,1013.4 1889.4,1013.5 1890.6,1012.5 1893.8,1013.4 1896.3,1012.4 1897.3,1014.1 1901.0,1012.8 1902.2,1012.9 1905.2,1013.0 1907.1,1012.8 1908.9,1012.5 1911.0,1012.0 1912.5,1015.3 1915.3,1014.0 1917.5,1014.2 1921.3,1015.8 1923.1,1013.9 1923.7,1014.5 1927.3,1013.8 1929.1,1014.5 1930.9,1013.6 1933.7,1013.4 1936.1,1012.5 1937.4,1014.0 1939.8,1014.8 1942.3,1012.9 1943.7,1014.6 1946.7,1014.3 1948.7,1013.7 1950.5,1012.6 1952.6,1014.3 1955.6,1012.8 1958.2,1013.4 1960.0,1012.7 1961.4,1011.2 1964.7,1012.1 1966.5,1011.0 1969.0,1011.3 1971.6,1011.9 1972.4,1012.1 1975.1,1012.0 1977.0,1011.7 1979.0,1013.5 1983.1,1012.1 1984.6,1010.3 1985.0,1010.5 1988.7,1010.2 1990.2,1010.1 1993.6,1009.6 1995.1,1009.4 1997.1,1011.2 1999.5,1009.8 2001.8,1009.4 2003.8,1009.0 2005.9,1008.8 2008.1,1010.0 2010.7,1009.4 2011.9,1009.4 2014.8,1005.9 2016.9,1008.5 2018.9,1009.1 2021.9,1009.1 2022.8,1007.3 2025.6,1006.0 2027.4,1007.5 2030.6,1006.3 2032.1,1005.0 2034.6,1006.1 2037.1,1007.1 2038.0,1007.4 2041.5,1007.1 2042.9,1005.7 2045.4,1008.8 2047.7,1005.8 2050.5,1006.4 2052.7,1005.0 2055.6,1007.3 2056.7,1006.2 2058.5,1006.5 2060.7,1005.6 2063.6,1005.2 2066.4,1004.9 2067.8,1003.4 2069.4,1005.4 2072.2,1005.1 2074.4,1003.8 2076.4,1004.2 2078.1,1003.4 2079.1,1004.6 2082.6,1003.2 2085.9,1002.4 2087.5,1001.4 2088.2,1001.2 2091.8,1001.3 2092.8,1001.4 2097.5,1001.0 2098.5,1001.2 2099.8,1000.8 2103.3,1000.1 2104.5,999.9 2107.6,1000.4 2109.4,999.4 2110.8,999.4 2114.2,999.5 2115.1,997.4 2119.1,999.4 2120.4,997.4 2123.5,997.9 2123.5,973.0 2123.5,1013.3" stroke="#F14040"/>
<polyline points="260.6,808.7 260.8,808.4 264.5,810.9 265.9,810.9 269.0,809.5 269.8,811.5 272.8,810.4 274.9,810.3 276.7,810.5 279.2,810.2 280.7,811.5 283.4,810.4 285.4,808.9 288.4,811.6 290.0,810.4 291.3,808.6 294.2,808.8 296.6,807.9 298.2,808.4 301.9,808.6 303.5,808.4 306.0,807.6 307.1,807.3 309.6,808.5 312.7,807.6 313.2,809.0 316.7,806.4 318.7,807.2 320.5,805.9 323.1,804.6 324.5,805.7 327.6,804.0 328.8,802.3 331.0,802.2 335.0,802.8 335.7,800.4 337.0,802.0 341.3,801.1 342.3,799.6 342.6,799.6 347.2,799.2 350.1,797.2 351.9,795.5 355.0,795.6 355.9,794.3 358.6,790.9 359.7,790.3 362.7,789.4 365.9,787.8 367.4,785.5 369.3,786.0 370.1,783.2 373.4,781.1 374.9,779.8 378.6,776.1 379.7,773.9 382.7,770.9 383.9,766.9 388.1,763.5 388.2,759.8 391.3,754.6 395.2,751.5 395.8,746.2 397.2,742.2 400.5,734.0 402.9,727.0 405.0,719.0 405.3,713.1 409.0,706.8 409.6,701.7 414.5,696.7 415.5,689.2 417.3,681.2 420.3,672.7 422.4,664.8 423.4,658.9 427.6,651.3 428.5,643.5 429.6,636.3 434.0,627.6 436.3,621.7 438.3,609.0 440.0,598.2 441.2,589.9 444.7,580.4 447.5,574.5 449.0,567.0 451.7,557.3 452.3,546.4 455.7,535.5 457.9,523.6 458.4,517.9 460.5,511.5 463.3,506.2 466.1,497.3 468.5,487.6 470.3,479.6 472.6,469.4 474.8,461.2 477.1,448.9 479.6,444.1 481.8,437.7 483.6,432.1 486.0,423.1 487.7,415.5 490.8,408.0 492.1,402.9 495.8,395.8 496.8,392.9 499.2,385.4 500.7,377.2 503.2,371.1 505.8,367.6 507.9,363.1 509.6,356.2 511.4,351.6 514.5,347.5 516.7,340.4 519.2,336.2 521.9,330.9 523.0,327.3 524.1,323.0 527.5,318.1 528.6,313.6 531.1,308.6 535.0,305.3 536.8,301.8 538.2,300.0 540.4,295.9 543.0,292.7 544.0,291.1 547.8,288.6 549.4,285.4 553.1,284.3 553.3,283.0 556.9,279.1 558.0,256.7 561.3,253.1 562.2,253.6 565.5,258.9 566.9,259.7 568.9,261.9 571.5,262.5 574.2,261.2 576.3,261.9 579.3,260.1 580.8,258.5 581.0,257.5 584.6,254.8 585.7,253.8 589.0,252.8 591.9,252.0 592.7,250.5 595.0,248.6 598.1,248.9 600.0,248.2 603.5,249.0 604.9,249.9 607.2,247.9 610.3,245.7 610.9,247.1 613.4,246.2 614.9,247.0 618.0,247.0 620.8,246.4 623.2,247.2 624.4,248.4 626.1,249.0 628.3,248.2 630.1,251.7 633.3,251.4 636.0,254.4 636.4,252.7 638.3,254.2 643.0,256.0 643.1,258.3 646.7,259.5 647.8,260.7 651.4,261.9 653.6,263.7 655.4,267.2 658.0,269.0 659.7,270.5 662.2,272.0 665.3,276.0 667.0,278.2 668.0,283.5 670.1,286.3 672.7,288.9 674.9,292.7 677.3,298.8 679.0,301.9 682.1,303.6 683.9,308.8 686.3,312.4 688.3,316.4 690.9,322.2 691.8,328.6 696.0,332.6 697.3,335.9 699.6,340.3 701.9,345.3 704.4,350.1 706.4,352.1 708.2,356.3 710.1,363.7 711.3,366.9 714.8,372.8 716.6,377.2 718.8,383.4 722.2,393.1 722.9,386.7 725.7,399.1 728.7,404.2 730.7,407.9 733.1,414.0 733.6,417.3 736.0,421.1 739.3,426.8 740.8,431.5 744.5,434.9 745.6,437.8 747.8,443.9 750.2,448.0 751.9,452.0 754.3,455.4 756.0,462.1 758.6,466.3 760.5,470.7 763.2,472.9 764.3,477.3 766.4,484.6 770.0,489.2 772.0,493.4 773.4,497.6 776.1,502.5 777.7,505.9 781.8,512.9 782.1,509.6 786.3,516.6 786.7,519.0 789.8,522.3 791.5,524.9 793.6,526.3 796.7,531.6 798.8,532.5 800.3,537.4 802.0,541.7 806.3,545.5 808.0,546.6 809.4,552.8 811.3,557.0 813.9,560.8 815.9,561.3 818.9,565.5 819.6,569.1 822.5,571.2 824.1,575.2 827.8,575.9 830.3,580.0 831.2,582.2 833.8,583.8 836.6,587.1 837.7,591.6 839.4,595.2 843.0,599.3 844.8,601.5 846.5,605.1 849.9,605.2 851.2,607.0 852.0,611.1 855.7,614.3 857.6,616.4 861.2,618.2 862.1,621.3 864.1,624.7 866.8,625.0 868.8,626.7 869.9,628.7 873.1,633.0 875.0,634.0 878.4,635.4 881.1,630.7 881.3,635.6 883.4,626.3 885.7,636.7 888.0,646.1 890.2,649.7 892.9,653.4 895.8,654.7 896.4,657.7 898.4,658.6 900.4,661.6 904.6,662.4 907.0,665.1 907.2,664.9 909.3,667.3 912.8,668.5 915.6,670.1 917.8,671.6 919.4,672.9 921.9,674.7 923.9,675.0 925.5,678.9 929.4,679.1 930.3,681.0 931.7,682.5 934.3,685.5 935.8,685.9 939.1,689.1 942.0,692.0 942.6,693.9 946.5,695.0 949.3,696.1 950.3,695.9 951.5,698.8 953.9,699.7 956.4,700.9 958.0,701.9 960.2,702.7 963.1,703.5 965.3,705.9 968.1,707.0 969.0,706.3 973.4,709.1 975.0,709.8 977.1,711.7 978.2,712.0 982.1,713.8 982.8,714.7 986.5,715.7 988.2,714.9 989.0,718.4 991.5,719.0 995.4,719.9 997.0,722.8 998.4,722.6 1000.8,725.7 1003.0,727.7 1004.5,726.7 1007.1,728.8 1009.0,729.6 1011.4,731.2 1014.2,730.9 1015.4,733.6 1018.8,734.6 1020.5,736.2 1023.2,736.3 1025.5,737.7 1027.9,737.9 1029.7,739.0 1032.0,740.6 1033.5,741.0 1036.3,742.8 1037.4,743.2 1040.1,744.5 1043.0,744.8 1044.6,746.4 1047.2,747.9 1048.3,748.2 1052.2,749.7 1053.1,750.2 1055.9,749.6 1057.9,751.9 1060.7,753.4 1062.0,752.9 1063.8,752.7 1065.3,755.3 1068.7,755.3 1070.2,758.0 1073.6,757.5 1076.1,759.1 1076.5,758.3 1079.0,760.6 1082.3,761.0 1085.1,761.1 1086.7,762.8 1088.9,762.9 1091.2,765.3 1093.5,763.5 1096.4,765.1 1097.9,765.3 1098.8,764.9 1101.5,767.7 1104.2,765.7 1105.7,769.0 1108.3,767.4 1110.3,769.2 1112.4,771.5 1115.6,768.5 1117.0,770.2 1118.7,772.7 1121.2,772.7 1123.9,773.2 1127.6,774.3 1128.4,774.2 1131.5,776.0 1133.0,777.8 1133.4,776.7 1137.3,777.6 1138.7,778.4 1140.5,779.6 1142.9,778.1 1147.0,780.3 1147.1,779.8 1149.8,781.2 1153.3,782.0 1155.1,782.4 1155.7,782.2 1159.0,782.1 1160.9,783.7 1163.3,784.9 1166.2,786.1 1167.5,785.0 1169.8,785.7 1173.2,787.1 1173.3,786.5 1176.4,786.9 1179.2,787.1 1180.2,789.1 1182.8,787.9 1184.5,787.9 1187.8,787.5 1189.4,789.5 1192.6,789.6 1195.0,791.7 1196.5,790.5 1198.4,791.5 1201.0,791.8 1203.1,792.2 1204.4,790.4 1208.2,792.6 1209.8,791.7 1212.4,791.9 1213.1,791.7 1216.9,791.0 1219.9,791.0 1221.1,789.1 1221.8,790.9 1225.1,790.7 1227.2,790.3 1229.6,791.2 1231.5,793.2 1234.2,792.0 1235.7,791.1 1238.4,792.7 1240.0,790.7 1242.7,791.0 1245.6,790.7 1246.7,791.2 1249.7,791.7 1250.8,791.3 1253.4,790.3 1255.7,790.5 1258.9,790.7 1259.7,790.3 1263.3,790.7 1263.6,790.1 1266.7,790.0 1269.7,790.8 1271.8,789.4 1272.7,790.5 1274.8,790.0 1278.5,789.4 1279.2,789.1 1282.7,789.5 1284.1,789.3 1286.7,789.2 1290.5,789.0 1292.2,788.4 1293.9,790.5 1294.5,790.6 1297.9,789.7 1299.9,790.2 1302.0,790.2 1305.2,789.8 1305.2,790.0 1308.9,792.9 1310.9,792.2 1312.5,792.4 1316.5,791.7 1316.6,792.6 1319.7,794.1 1321.9,792.3 1322.5,792.7 1325.2,792.4 1327.8,792.3 1331.2,793.4 1333.5,792.9 1335.5,793.0 1337.4,792.4 1337.9,794.8 1341.8,792.7 1343.5,792.8 1346.9,794.3 1349.2,792.5 1352.0,793.3 1353.2,792.7 1355.4,793.2 1356.3,793.1 1359.3,794.4 1360.6,793.6 1364.3,793.3 1365.0,793.8 1367.9,794.1 1369.7,794.3 1372.1,795.8 1375.0,796.0 1376.5,796.0 1379.2,794.9 1380.5,796.4 1384.4,795.2 1385.2,796.6 1388.6,796.3 1390.5,795.6 1391.6,796.1 1393.7,795.7 1396.5,797.4 1399.7,787.1 1400.7,781.6 1403.5,780.7 1404.9,780.4 1408.1,784.5 1409.0,787.5 1412.1,800.0 1412.6,794.1 1415.1,797.9 1419.9,798.2 1421.0,799.2 1422.4,799.8 1426.8,798.4 1428.2,799.9 1430.5,800.0 1431.6,800.7 1434.5,800.6 1436.6,799.9 1437.3,799.6 1441.1,798.1 1442.7,800.9 1446.0,799.3 1448.2,800.8 1449.0,802.8 1451.2,802.0 1454.0,802.9 1456.5,802.2 1458.0,802.6 1460.4,802.1 1463.1,801.5 1465.2,803.3 1467.9,802.5 1469.4,802.0 1470.8,803.2 1472.4,804.1 1476.4,802.7 1477.8,803.7 1480.0,803.7 1482.2,804.5 1483.5,802.4 1486.6,803.6 1487.2,802.2 1491.0,803.3 1492.8,804.2 1497.0,804.4 1498.2,804.3 1499.9,804.1 1502.4,803.8 1505.0,803.9 1506.1,804.6 1508.7,804.4 1510.8,804.9 1515.0,805.1 1515.5,805.3 1516.2,803.3 1520.4,804.5 1523.6,804.5 1523.9,804.6 1528.6,805.0 1528.9,805.7 1531.6,804.3 1532.6,804.5 1535.1,805.1 1536.6,803.8 1538.9,803.8 1540.3,804.6 1544.9,804.0 1545.4,804.4 1548.7,803.7 1550.9,803.9 1552.4,803.0 1555.1,802.6 1557.2,803.6 1559.1,801.2 1561.7,804.2 1563.9,804.4 1565.3,803.8 1567.3,803.7 1569.8,805.1 1572.7,803.3 1575.8,804.3 1578.1,805.6 1579.5,804.1 1582.1,804.1 1583.7,804.1 1586.6,803.7 1588.1,803.5 1590.5,803.4 1592.2,803.8 1594.6,802.3 1598.2,804.0 1598.2,803.4 1601.2,803.1 1603.0,803.8 1606.3,803.1 1609.2,803.9 1609.8,804.3 1610.2,804.5 1614.9,803.6 1617.1,802.2 1617.6,802.8 1620.9,803.1 1623.2,803.4 1623.8,800.3 1628.1,802.0 1630.2,800.3 1632.2,801.8 1633.5,801.7 1635.9,801.4 1638.2,801.5 1641.2,800.8 1642.3,799.6 1646.3,800.0 1647.7,800.3 1648.1,799.0 1653.1,799.0 1654.2,797.6 1655.8,799.2 1658.5,798.3 1659.3,797.9 1663.0,798.0 1663.3,797.8 1666.5,798.0 1670.4,798.5 1672.6,798.0 1673.6,798.5 1675.3,798.6 1678.9,796.7 1680.4,798.0 1682.8,798.7 1685.3,798.9 1686.3,795.9 1689.8,795.8 1689.9,796.8 1694.7,795.7 1694.7,796.4 1697.6,796.8 1699.7,795.8 1703.0,795.0 1705.2,796.4 1707.1,796.8 1709.4,796.7 1711.6,797.1 1713.4,796.6 1714.2,796.1 1716.1,795.9 1718.4,795.7 1722.2,796.5 1724.3,797.6 1726.5,797.3 1729.0,798.4 1730.9,796.6 1732.5,795.9 1734.3,798.0 1736.2,798.4 1740.7,796.8 1742.7,796.1 1743.2,797.2 1746.2,797.3 1748.9,795.6 1752.0,796.1 1752.6,796.0 1755.4,795.6 1758.3,795.3 1758.4,796.5 1761.3,795.8 1764.0,795.4 1765.7,793.3 1770.0,797.0 1771.3,794.9 1773.0,795.3 1774.3,794.3 1777.9,795.6 1779.9,794.1 1781.2,795.2 1783.5,795.0 1785.0,796.1 1788.2,794.5 1791.1,794.5 1793.4,794.9 1795.2,796.6 1797.6,793.8 1798.8,794.7 1801.1,793.8 1804.5,794.2 1806.2,794.2 1807.4,793.5 1810.6,793.5 1813.0,793.3 1815.1,792.7 1816.9,792.7 1818.6,791.2 1821.5,792.2 1824.7,791.9 1825.7,791.8 1827.3,792.5 1830.3,792.1 1831.3,791.8 1834.6,792.2 1836.4,789.6 1839.5,791.6 1841.1,791.2 1844.0,790.8 1847.1,789.7 1847.5,791.0 1849.2,791.5 1852.4,791.8 1854.2,791.3 1856.5,791.9 1858.2,791.8 1861.2,792.4 1863.1,791.7 1863.6,791.0 1867.2,790.9 1869.9,791.3 1872.7,791.3 1873.6,790.5 1875.6,791.4 1879.3,790.3 1880.2,790.0 1882.9,790.4 1885.4,789.9 1887.8,790.1 1889.4,788.6 1890.8,791.0 1894.6,790.5 1895.7,790.4 1897.8,791.0 1901.9,790.6 1903.3,789.8 1904.0,791.8 1906.7,790.0 1909.0,791.1 1910.9,791.5 1912.2,789.7 1916.4,790.5 1918.6,789.4 1920.4,790.3 1922.1,789.1 1924.8,788.1 1927.3,789.6 1928.3,789.3 1931.0,787.9 1933.0,789.6 1936.1,788.8 1938.0,790.3 1939.1,789.5 1941.8,787.7 1945.7,787.3 1945.9,786.7 1948.9,787.2 1950.6,786.2 1954.1,783.1 1955.4,774.6 1957.3,768.9 1959.0,766.5 1961.8,766.9 1964.8,771.2 1966.9,778.2 1967.7,780.5 1971.9,781.0 1972.8,781.1 1974.4,780.0 1977.5,781.9 1979.2,780.0 1981.4,780.7 1983.6,778.4 1986.1,779.8 1988.0,779.9 1989.4,777.0 1993.2,779.4 1994.6,778.6 1998.1,777.7 1999.8,776.8 2002.1,778.8 2003.9,777.7 2006.9,777.3 2008.0,775.7 2009.7,774.5 2012.8,773.0 2012.9,775.2 2016.7,773.5 2019.4,771.4 2021.1,771.7 2024.5,770.5 2026.3,772.0 2028.1,769.3 2029.9,769.1 2033.2,769.6 2034.1,768.9 2036.5,770.1 2039.5,769.3 2041.6,768.3 2044.9,768.2 2045.4,765.7 2046.4,766.0 2050.5,766.3 2053.1,765.5 2054.3,763.6 2057.7,763.2 2060.1,762.4 2060.5,762.5 2062.9,761.2 2064.5,760.0 2068.0,759.2 2070.3,758.8 2072.4,757.5 2073.3,756.7 2075.9,754.9 2077.6,755.9 2079.6,755.4 2082.0,753.5 2084.1,753.4 2087.3,751.9 2089.9,752.0 2092.3,749.5 2094.0,747.5 2095.7,746.3 2098.4,746.4 2101.0,745.8 2102.6,744.6 2105.0,744.1 2107.0,743.1 2109.0,742.0 2111.6,742.5 2113.0,741.4 2116.8,742.1 2117.1,741.3 2120.7,742.3 2123.5,742.4 2123.5,656.4 2123.5,742.4" stroke="#37AD6B"/>
<polyline points="259.3,1359.2 261.0,1361.8 262.5,1361.8 265.5,1360.6 267.4,1361.0 268.9,1361.2 273.3,1362.4 273.5,1362.2 277.0,1364.0 279.4,1360.7 281.0,1362.3 285.2,1361.3 285.6,1362.2 287.2,1362.2 291.2,1359.4 291.6,1353.8 293.4,1352.0 295.9,1353.8 298.3,1356.3 301.0,1358.4 303.4,1357.5 304.3,1359.7 307.8,1359.8 311.4,1359.9 311.5,1359.7 314.1,1361.4 316.9,1362.0 319.4,1361.5 320.3,1359.5 322.3,1360.8 324.5,1359.5 328.2,1361.1 330.2,1361.7 330.2,1361.0 332.5,1361.4 335.3,1360.9 337.3,1359.6 340.9,1359.9 342.9,1361.6 346.4,1362.2 347.7,1362.4 349.5,1360.9 352.4,1361.6 353.2,1362.8 355.0,1367.0 358.2,1364.7 361.1,1361.6 361.4,1362.9 365.4,1361.4 367.6,1360.9 368.8,1359.5 371.5,1360.6 373.4,1359.0 375.8,1358.9 378.6,1360.4 379.6,1359.8 383.1,1360.0 385.2,1360.1 387.4,1358.7 387.6,1359.8 389.9,1357.6 393.9,1358.8 395.2,1357.2 397.3,1357.8 399.4,1357.2 401.2,1356.6 404.2,1356.7 406.1,1354.2 408.3,1355.5 411.3,1354.3 412.3,1355.1 416.0,1353.3 416.2,1354.6 421.0,1352.1 421.6,1353.3 424.6,1353.0 427.0,1351.4 428.6,1352.1 431.3,1349.5 432.9,1351.4 433.9,1348.6 437.6,1349.9 440.4,1348.3 441.4,1348.8 442.8,1347.3 445.8,1347.5 448.6,1346.5 450.8,1346.6 453.6,1345.6 455.4,1345.5 457.5,1346.1 458.0,1343.8 463.2,1345.0 463.8,1343.7 466.6,1342.4 467.9,1343.4 470.3,1342.8 472.6,1344.5 475.9,1342.4 478.1,1342.4 479.6,1342.3 482.8,1340.0 483.3,1341.4 486.2,1339.9 487.7,1341.7 491.1,1341.5 492.4,1339.9 495.3,1337.9 497.5,1337.8 498.0,1338.7 502.7,1338.2 503.6,1336.5 505.4,1335.9 506.4,1336.1 509.8,1335.2 510.5,1336.8 514.5,1334.5 516.5,1333.5 520.1,1334.1 520.8,1332.9 524.0,1333.3 526.2,1333.3 529.1,1332.8 529.6,1332.6 532.5,1333.5 533.1,1332.2 535.6,1330.5 538.4,1331.2 540.8,1331.9 542.1,1330.5 544.9,1330.9 547.9,1331.1 549.3,1331.5 551.7,1330.8 553.4,1330.5 557.2,1329.9 559.7,1330.2 560.7,1328.8 562.7,1330.5 566.2,1329.1 567.5,1328.9 568.9,1329.2 570.6,1328.3 573.4,1328.6 577.6,1328.3 577.8,1327.8 582.5,1327.9 582.6,1328.5 584.6,1330.0 587.9,1328.4 589.0,1328.4 591.7,1328.8 592.8,1329.7 594.9,1330.9 597.5,1328.5 600.4,1329.6 601.9,1328.9 603.2,1328.3 607.1,1328.7 608.9,1327.3 611.0,1329.2 613.0,1329.0 614.0,1328.2 618.9,1330.4 619.7,1330.1 622.6,1330.3 625.4,1328.3 627.4,1329.3 628.9,1329.2 631.0,1330.0 633.4,1330.4 636.0,1327.4 638.0,1329.3 639.5,1329.3 642.3,1330.4 644.5,1329.8 646.9,1329.0 648.7,1330.2 651.8,1329.3 653.1,1329.5 655.8,1330.3 657.4,1329.8 659.2,1329.8 661.1,1328.5 663.9,1331.7 666.6,1330.8 669.3,1330.9 670.5,1329.3 672.4,1329.0 674.6,1330.5 678.1,1331.4 679.5,1333.2 681.2,1332.2 684.3,1331.0 685.1,1332.4 688.3,1332.3 690.4,1331.9 692.5,1333.5 694.0,1332.8 697.7,1332.0 700.4,1331.9 700.4,1332.7 703.7,1333.8 706.3,1332.3 709.6,1332.6 709.9,1334.3 711.7,1332.1 714.6,1336.3 718.2,1334.4 719.0,1335.7 721.4,1337.5 724.1,1336.0 724.7,1335.2 726.2,1339.4 730.7,1337.7 732.8,1338.4 733.4,1338.6 737.0,1339.1 738.8,1339.4 741.2,1338.8 742.6,1337.9 745.1,1338.0 747.0,1338.1 749.8,1338.6 751.8,1337.1 755.4,1338.2 756.9,1336.0 757.5,1337.5 761.1,1338.3 764.0,1338.3 765.4,1337.8 768.2,1336.9 769.6,1337.0 772.3,1337.9 773.3,1338.6 776.8,1338.7 777.4,1338.4 781.5,1339.6 781.7,1341.0 783.5,1341.5 787.6,1339.7 789.3,1340.4 791.7,1339.8 794.1,1340.9 796.0,1344.1 797.6,1341.5 800.6,1341.5 802.8,1340.9 805.2,1340.4 808.4,1339.8 808.7,1341.4 811.4,1341.4 814.0,1343.5 815.5,1341.1 817.1,1343.2 819.8,1344.0 823.2,1341.3 824.4,1343.1 827.2,1341.5 828.5,1343.3 831.5,1344.1 832.9,1343.1 835.0,1343.6 837.9,1342.5 840.0,1343.4 843.2,1343.4 843.3,1344.5 847.0,1343.4 850.0,1343.9 852.0,1344.7 852.9,1342.4 854.9,1344.2 857.2,1343.9 860.0,1345.2 862.1,1345.4 864.5,1344.8 866.8,1345.4 867.8,1344.1 870.0,1344.5 872.1,1344.3 874.2,1345.6 877.3,1345.8 879.8,1345.4 883.6,1344.9 884.4,1346.3 886.2,1346.4 889.4,1347.7 890.1,1347.3 893.0,1348.7 895.7,1347.7 897.8,1346.6 899.7,1348.1 901.3,1347.8 902.9,1350.4 905.9,1351.1 907.8,1349.5 910.9,1349.9 912.5,1347.8 915.2,1347.0 915.8,1348.2 919.9,1348.6 920.8,1347.6 922.5,1348.8 924.8,1348.7 927.5,1348.8 931.0,1349.4 932.9,1348.7 933.8,1347.8 936.9,1348.5 938.9,1349.6 940.1,1348.9 942.7,1351.0 944.1,1351.1 947.2,1350.0 948.1,1349.1 951.6,1352.9 953.7,1350.1 956.0,1349.7 958.2,1350.3 961.8,1350.0 963.0,1348.7 965.6,1349.3 968.1,1347.9 970.4,1349.0 972.5,1346.8 973.8,1348.5 975.6,1348.2 978.0,1346.3 980.5,1349.2 983.0,1346.8 985.1,1348.7 988.2,1347.7 989.5,1348.7 993.1,1348.1 994.7,1350.7 995.9,1349.5 998.5,1349.1 999.0,1350.0 1003.8,1349.3 1005.3,1348.9 1007.5,1349.1 1008.2,1349.8 1013.4,1349.6 1013.6,1349.5 1015.9,1348.3 1019.0,1349.1 1020.3,1350.0 1022.0,1348.9 1025.3,1349.7 1026.3,1349.1 1029.7,1348.5 1031.5,1348.5 1034.4,1348.6 1034.9,1348.5 1038.9,1348.5 1040.4,1349.2 1043.8,1347.4 1044.1,1346.3 1048.1,1348.8 1049.5,1348.1 1051.8,1348.7 1052.9,1350.5 1056.0,1349.5 1058.3,1348.4 1059.4,1348.4 1061.4,1347.5 1063.8,1348.3 1067.6,1347.4 1068.9,1347.6 1071.7,1348.0 1073.4,1350.5 1075.5,1351.0 1077.8,1349.9 1079.5,1352.1 1082.9,1351.4 1084.3,1352.2 1086.6,1351.5 1087.6,1352.4 1091.0,1351.5 1092.5,1351.4 1094.8,1351.6 1098.1,1351.5 1098.8,1350.8 1101.7,1349.8 1104.4,1352.4 1107.0,1350.6 1108.0,1349.3 1110.8,1348.7 1113.0,1348.2 1114.2,1350.1 1115.7,1351.8 1118.0,1349.3 1122.0,1350.6 1123.9,1349.3 1125.0,1351.6 1127.7,1351.2 1130.1,1351.2 1132.3,1352.5 1134.8,1352.9 1138.6,1352.6 1138.6,1350.9 1141.5,1350.4 1143.0,1350.3 1145.3,1349.9 1147.4,1352.8 1150.0,1351.1 1152.0,1351.2 1154.8,1351.4 1157.0,1352.5 1158.4,1350.1 1162.6,1351.1 1162.6,1351.6 1165.9,1351.1 1169.4,1349.8 1169.5,1352.3 1173.1,1351.1 1175.4,1351.1 1176.8,1351.4 1177.5,1351.5 1182.0,1352.4 1183.3,1350.9 1185.0,1351.6 1188.5,1352.1 1189.3,1351.7 1192.8,1352.3 1193.8,1351.5 1196.8,1352.9 1197.8,1351.2 1200.5,1350.8 1202.3,1352.2 1204.7,1353.6 1207.5,1352.2 1209.5,1351.7 1211.9,1352.3 1214.9,1352.6 1216.1,1352.6 1217.1,1353.3 1220.4,1351.9 1222.9,1354.4 1225.7,1353.7 1227.9,1352.2 1230.1,1353.8 1231.4,1353.3 1234.3,1354.1 1235.0,1351.9 1239.1,1354.5 1240.7,1353.1 1243.0,1351.3 1244.5,1353.0 1247.0,1351.8 1248.7,1351.3 1251.8,1352.2 1252.6,1350.9 1256.5,1352.9 1258.4,1352.5 1261.6,1352.1 1262.4,1353.2 1264.5,1351.8 1266.9,1351.3 1269.0,1350.9 1271.1,1351.2 1272.6,1352.0 1274.8,1350.6 1277.4,1350.2 1279.8,1351.8 1281.4,1351.2 1283.6,1351.2 1286.4,1353.1 1289.3,1350.6 1290.9,1351.9 1293.7,1350.2 1296.1,1351.4 1298.1,1352.2 1299.5,1352.6 1301.7,1350.6 1302.9,1352.5 1305.9,1352.8 1308.9,1351.9 1310.0,1354.1 1314.0,1352.3 1316.2,1352.0 1317.1,1352.9 1320.3,1351.3 1320.8,1354.2 1323.3,1353.6 1325.9,1352.1 1328.4,1352.6 1330.5,1352.2 1332.2,1353.3 1336.4,1351.1 1337.4,1350.5 1339.6,1350.0 1342.1,1351.5 1343.9,1350.0 1345.8,1351.0 1347.8,1351.3 1349.2,1350.1 1353.7,1349.7 1354.1,1351.6 1355.8,1350.4 1358.6,1350.8 1360.3,1352.0 1365.0,1350.2 1366.1,1351.0 1369.0,1354.1 1371.2,1352.1 1372.8,1351.4 1375.0,1352.3 1376.3,1352.0 1378.9,1351.3 1380.8,1352.0 1383.4,1352.0 1385.1,1351.9 1388.7,1352.3 1390.5,1350.9 1392.1,1351.4 1393.2,1353.6 1397.1,1352.8 1399.4,1354.1 1401.0,1353.5 1402.3,1352.1 1405.7,1353.9 1408.4,1352.5 1408.4,1353.4 1412.4,1353.8 1412.9,1354.1 1416.5,1351.7 1419.8,1349.1 1420.9,1344.2 1423.3,1342.2 1425.0,1340.5 1427.4,1344.3 1431.3,1347.2 1432.8,1349.4 1433.8,1349.8 1435.9,1351.7 1438.4,1352.7 1442.2,1352.7 1442.9,1352.6 1445.8,1351.9 1446.9,1352.8 1448.5,1353.9 1452.5,1353.9 1453.7,1351.8 1455.4,1351.6 1457.7,1351.5 1459.9,1352.6 1462.2,1352.1 1463.7,1352.0 1467.9,1351.9 1469.5,1350.9 1472.1,1350.5 1473.4,1349.4 1476.0,1349.3 1478.1,1349.4 1481.0,1349.9 1483.0,1348.9 1484.9,1348.7 1486.3,1350.8 1488.1,1350.0 1490.6,1350.7 1492.9,1350.0 1495.2,1349.8 1496.9,1349.0 1501.2,1349.5 1502.4,1349.4 1503.0,1351.2 1505.8,1349.6 1507.8,1350.5 1511.2,1351.5 1514.0,1351.0 1514.7,1351.5 1518.0,1352.0 1519.6,1350.0 1522.8,1351.3 1525.2,1350.7 1526.6,1352.6 1529.1,1351.3 1530.8,1351.8 1532.7,1352.4 1534.4,1351.2 1537.6,1351.4 1539.6,1351.8 1541.5,1351.1 1543.9,1352.6 1546.1,1351.9 1547.7,1352.0 1550.2,1351.2 1553.6,1350.6 1554.8,1350.5 1558.2,1350.2 1558.6,1349.5 1560.6,1350.9 1563.9,1351.2 1566.6,1350.7 1567.7,1350.7 1570.8,1350.4 1573.3,1350.4 1575.6,1350.6 1576.9,1351.8 1579.2,1349.0 1580.2,1349.9 1583.6,1350.2 1586.0,1349.8 1589.0,1349.4 1589.3,1349.1 1591.8,1349.7 1593.9,1350.9 1597.2,1349.7 1597.4,1351.5 1600.4,1350.5 1604.9,1350.4 1606.1,1350.6 1606.9,1349.9 1610.0,1350.1 1612.8,1350.2 1614.8,1348.8 1616.4,1350.0 1618.2,1348.4 1621.6,1348.1 1623.2,1349.3 1626.0,1349.1 1627.9,1350.5 1629.5,1350.5 1633.0,1349.5 1633.8,1349.3 1636.7,1348.5 1638.2,1348.4 1640.6,1349.1 1642.8,1349.6 1644.7,1349.3 1647.6,1349.4 1650.5,1349.7 1653.1,1350.8 1655.0,1349.5 1656.1,1350.7 1659.4,1349.0 1660.9,1350.5 1664.1,1348.4 1664.1,1348.8 1668.2,1349.8 1669.0,1350.0 1672.4,1349.2 1673.5,1350.9 1676.6,1349.4 1678.0,1349.7 1679.1,1348.7 1681.9,1350.4 1684.6,1349.2 1687.0,1349.1 1687.6,1347.6 1690.6,1349.6 1693.1,1349.2 1695.7,1350.5 1698.2,1350.7 1699.6,1348.8 1701.3,1349.4 1704.8,1349.3 1706.6,1348.1 1709.6,1347.3 1710.8,1347.0 1713.9,1347.4 1715.0,1347.1 1718.0,1349.0 1720.1,1348.5 1722.5,1347.4 1723.7,1348.2 1726.5,1346.8 1728.2,1345.2 1730.9,1348.8 1733.6,1348.8 1737.5,1346.4 1737.6,1347.4 1740.3,1348.2 1742.1,1347.3 1745.0,1347.0 1746.7,1347.3 1749.3,1347.5 1751.1,1347.1 1754.7,1348.2 1756.2,1347.7 1756.2,1347.2 1759.8,1348.0 1761.9,1346.5 1762.4,1348.6 1765.6,1345.6 1768.1,1347.0 1770.1,1347.2 1772.9,1347.0 1773.7,1347.0 1777.7,1348.1 1779.9,1346.1 1781.9,1346.6 1783.6,1346.6 1786.0,1345.7 1787.9,1345.3 1791.2,1346.9 1793.0,1345.6 1796.2,1345.9 1796.7,1345.8 1800.2,1345.9 1801.0,1345.9 1803.5,1345.3 1805.1,1345.9 1808.4,1345.8 1810.2,1346.1 1812.8,1347.1 1815.7,1345.5 1816.8,1347.3 1819.3,1345.7 1821.8,1346.4 1823.4,1345.5 1825.2,1345.0 1828.1,1343.7 1830.4,1346.4 1832.8,1344.5 1835.0,1344.6 1836.1,1345.5 1839.1,1344.9 1841.9,1346.4 1842.9,1346.2 1845.7,1345.5 1847.2,1345.5 1849.9,1345.4 1853.2,1343.7 1854.3,1344.7 1855.7,1344.5 1858.8,1343.6 1861.0,1344.6 1863.8,1343.0 1864.2,1345.0 1866.8,1345.2 1869.6,1343.0 1870.7,1343.8 1874.8,1343.8 1874.8,1344.9 1877.8,1342.5 1879.6,1342.3 1882.3,1343.8 1885.6,1344.6 1887.6,1342.5 1890.1,1343.0 1892.0,1342.5 1892.4,1342.5 1896.2,1342.8 1896.9,1342.4 1900.1,1342.2 1902.3,1344.2 1904.4,1342.7 1907.4,1342.8 1908.6,1343.8 1912.6,1342.5 1914.0,1342.3 1916.6,1342.9 1918.5,1340.9 1920.8,1341.9 1922.4,1342.2 1926.0,1341.4 1926.1,1340.5 1929.3,1340.7 1931.2,1339.6 1933.2,1340.9 1935.8,1341.3 1937.3,1341.5 1940.6,1340.8 1942.8,1340.0 1944.5,1339.7 1947.1,1340.2 1948.1,1340.5 1949.7,1340.9 1952.8,1339.9 1955.2,1339.1 1959.4,1339.1 1959.6,1339.1 1962.7,1339.7 1964.8,1338.1 1967.9,1338.8 1968.7,1339.4 1971.3,1340.6 1972.9,1339.8 1974.6,1340.1 1976.7,1340.8 1979.1,1338.8 1982.8,1340.4 1984.2,1340.3 1986.1,1338.9 1988.4,1340.7 1990.2,1338.6 1992.8,1338.4 1995.0,1338.2 1997.7,1338.9 2000.0,1338.0 2000.5,1336.5 2004.0,1337.7 2007.0,1338.1 2007.5,1340.0 2010.2,1339.0 2012.7,1337.7 2015.6,1336.6 2017.4,1337.8 2019.1,1336.4 2021.8,1337.4 2024.3,1337.4 2026.1,1336.7 2029.3,1337.3 2030.5,1336.4 2031.7,1336.1 2034.1,1338.0 2036.7,1337.2 2038.9,1335.8 2041.6,1335.2 2043.7,1335.8 2046.8,1335.9 2048.4,1336.0 2051.0,1336.5 2051.7,1335.8 2054.1,1334.7 2057.1,1336.5 2058.9,1335.7 2061.4,1335.4 2063.4,1335.4 2065.0,1332.2 2068.8,1332.9 2070.6,1332.4 2070.9,1333.2 2073.8,1331.3 2076.4,1332.1 2079.1,1332.9 2080.8,1331.7 2082.1,1330.7 2085.8,1331.9 2087.3,1328.9 2090.5,1330.4 2092.0,1329.4 2094.7,1329.6 2096.8,1328.3 2099.0,1327.4 2100.3,1327.7 2103.5,1326.1 2105.2,1327.1 2106.3,1326.3 2109.1,1327.2 2111.4,1325.9 2114.1,1325.6 2116.5,1326.5 2117.4,1327.2 2120.9,1324.6 2123.5,1325.2 2123.5,1309.4 2123.5,1330.3" stroke="#B177DE"/>
<polyline points="260.1,1255.9 262.6,1256.4 264.0,1260.1 265.9,1260.8 267.4,1261.4 269.5,1263.9 272.7,1264.8 274.7,1264.2 276.4,1265.7 278.7,1266.2 282.3,1264.9 284.1,1267.4 285.6,1265.4 288.0,1265.8 290.9,1263.9 292.5,1266.8 294.6,1265.7 295.5,1266.8 297.6,1265.3 299.7,1267.3 301.6,1267.7 305.4,1268.4 307.8,1264.9 309.2,1267.9 312.3,1268.3 314.5,1265.8 316.3,1267.8 317.6,1268.6 321.8,1270.3 324.0,1268.6 324.8,1269.2 328.8,1269.0 329.6,1269.2 331.3,1268.7 333.7,1269.1 334.9,1269.4 338.2,1266.8 339.5,1268.3 343.6,1265.8 345.2,1266.1 346.2,1266.6 349.8,1265.7 350.4,1265.8 353.9,1265.9 356.3,1265.7 358.3,1264.6 359.6,1263.9 362.5,1265.2 364.7,1264.9 367.0,1264.2 370.2,1263.4 372.6,1263.9 374.7,1262.2 375.4,1260.9 377.5,1261.6 380.2,1261.6 382.7,1261.8 383.2,1260.2 386.4,1259.6 390.3,1259.6 390.3,1257.7 392.9,1256.2 395.1,1256.0 398.1,1254.2 400.0,1254.4 402.0,1252.4 403.3,1252.8 407.0,1251.2 408.8,1251.8 410.5,1248.4 413.2,1246.8 416.0,1246.6 416.6,1244.0 418.7,1242.7 421.3,1241.8 423.6,1239.5 424.3,1228.9 428.2,1217.3 431.6,1216.6 432.8,1221.4 435.4,1223.3 435.9,1223.8 439.5,1224.0 442.8,1223.4 445.1,1222.7 445.9,1221.9 447.8,1221.1 450.9,1219.6 451.9,1218.5 454.7,1216.0 456.0,1214.8 459.5,1214.6 461.6,1211.2 464.9,1211.0 466.3,1208.9 467.7,1206.4 470.3,1204.2 471.7,1204.2 474.8,1201.5 476.8,1200.0 479.5,1197.6 482.1,1198.1 482.2,1195.7 486.0,1194.0 488.5,1192.3 489.4,1190.1 493.7,1188.7 494.1,1187.3 498.5,1185.2 499.6,1182.3 501.9,1184.2 503.6,1182.6 506.3,1181.2 507.1,1181.3 509.4,1177.2 510.8,1174.7 514.8,1177.2 516.1,1175.4 519.3,1173.0 521.4,1173.3 522.3,1173.3 525.9,1171.2 527.8,1172.0 529.9,1172.3 532.3,1171.2 534.2,1169.5 536.4,1168.6 539.3,1166.8 540.1,1166.8 542.2,1165.1 544.7,1164.0 548.1,1163.5 549.4,1165.3 551.8,1162.1 553.1,1163.5 555.7,1161.9 558.1,1162.8 560.8,1162.6 563.7,1160.6 564.9,1161.1 566.5,1161.0 570.0,1159.9 572.0,1158.8 572.7,1159.0 576.4,1159.3 578.4,1158.4 579.8,1157.3 582.3,1156.5 585.0,1152.3 587.0,1151.1 589.0,1154.4 590.6,1161.7 593.8,1161.1 595.3,1162.0 598.1,1160.7 599.8,1162.7 602.5,1161.7 605.1,1160.7 607.0,1161.2 609.5,1163.3 610.2,1162.4 613.7,1162.0 615.8,1162.3 617.4,1160.9 619.9,1161.6 620.2,1161.8 624.5,1162.5 626.3,1163.9 627.2,1165.0 631.4,1166.0 632.8,1166.0 635.6,1167.8 637.4,1165.6 640.1,1166.2 642.1,1167.4 644.0,1167.0 646.7,1168.1 649.2,1168.8 649.2,1168.8 653.0,1170.4 654.8,1171.9 656.6,1170.7 660.5,1170.7 662.5,1173.1 663.3,1172.8 665.4,1174.2 669.0,1174.3 670.2,1175.6 672.6,1176.7 673.6,1176.8 677.1,1176.6 680.2,1176.3 681.3,1176.1 683.7,1176.8 687.2,1178.7 688.8,1180.1 691.4,1179.7 693.0,1179.9 695.6,1179.9 695.8,1180.2 698.6,1180.4 700.2,1183.2 705.2,1181.4 705.9,1183.7 707.9,1182.8 709.7,1184.7 711.7,1185.3 712.6,1186.6 718.4,1187.9 718.9,1186.9 721.2,1187.4 722.4,1188.4 725.6,1189.3 728.1,1191.1 729.9,1191.4 732.6,1192.7 733.8,1194.3 736.8,1193.9 739.4,1196.2 741.4,1194.6 743.5,1197.2 745.3,1197.7 746.9,1197.4 750.2,1197.5 751.7,1199.0 753.5,1197.7 756.9,1196.0 757.5,1196.1 760.4,1197.6 763.5,1195.9 765.9,1197.3 767.1,1197.4 769.6,1195.8 772.2,1196.5 773.9,1195.4 775.7,1196.1 778.7,1196.4 780.7,1199.0 782.9,1198.4 785.8,1199.9 787.4,1200.3 789.1,1201.0 791.7,1199.5 795.2,1200.2 795.5,1201.0 798.0,1201.5 799.8,1202.0 802.8,1202.6 803.9,1204.6 807.3,1203.8 809.7,1204.2 810.9,1203.9 813.0,1205.1 814.8,1204.9 818.0,1205.3 819.4,1205.4 822.0,1206.5 824.3,1207.7 826.3,1206.7 829.6,1206.2 831.9,1209.5 832.3,1209.2 835.0,1209.5 838.0,1209.6 839.3,1212.8 841.8,1210.5 844.5,1209.8 847.6,1211.1 849.6,1212.5 850.8,1212.1 853.3,1212.8 855.1,1214.5 857.5,1214.3 859.0,1215.0 860.8,1215.4 863.9,1215.2 867.1,1216.5 869.1,1215.7 869.5,1218.0 872.9,1216.7 874.8,1217.7 877.6,1217.1 878.8,1218.9 882.4,1218.6 883.9,1221.2 886.6,1220.0 889.0,1220.6 889.2,1218.7 892.6,1219.3 896.1,1220.0 897.2,1219.2 900.1,1221.1 901.9,1220.1 903.4,1221.0 906.2,1221.6 908.9,1221.3 911.3,1222.5 913.6,1221.5 914.0,1222.4 917.6,1223.6 918.2,1223.5 921.3,1223.7 923.5,1224.2 926.2,1225.4 928.2,1226.4 931.1,1226.3 932.0,1226.1 935.2,1228.0 937.1,1228.0 939.0,1229.1 940.4,1229.5 943.8,1230.8 945.8,1229.0 948.3,1229.6 950.0,1231.0 952.0,1229.6 954.7,1230.9 956.9,1230.7 959.3,1229.3 962.3,1231.1 962.8,1231.7 965.5,1229.3 966.8,1230.7 970.5,1230.7 971.4,1229.6 975.6,1230.2 975.8,1230.2 979.3,1229.3 980.1,1228.6 982.2,1229.5 985.8,1229.6 988.0,1229.2 989.1,1229.2 993.5,1230.8 993.8,1230.7 997.3,1230.8 997.7,1231.2 999.9,1232.3 1002.9,1232.9 1004.3,1232.9 1007.5,1232.4 1007.9,1233.7 1011.7,1233.8 1013.4,1234.8 1015.3,1236.4 1018.3,1236.5 1020.2,1236.3 1022.3,1236.2 1025.4,1236.1 1027.2,1236.6 1029.5,1236.2 1032.3,1236.9 1033.5,1237.0 1036.4,1237.9 1037.7,1238.2 1040.6,1239.9 1042.8,1239.2 1044.2,1238.3 1045.7,1239.1 1048.1,1237.8 1050.5,1238.5 1053.8,1237.3 1055.5,1238.1 1057.6,1234.6 1060.3,1234.9 1062.7,1234.8 1065.4,1235.6 1066.2,1235.9 1069.2,1234.5 1071.5,1235.4 1072.5,1236.0 1075.5,1236.6 1077.0,1235.5 1079.6,1235.5 1082.3,1237.4 1083.0,1237.7 1085.8,1238.4 1088.0,1237.1 1090.9,1238.2 1092.5,1238.8 1095.5,1239.3 1096.8,1238.9 1099.2,1239.1 1102.2,1239.8 1104.2,1238.6 1106.3,1238.2 1108.4,1238.3 1111.3,1237.8 1113.8,1238.2 1114.7,1238.0 1116.7,1237.6 1118.7,1238.7 1122.8,1238.0 1123.2,1236.9 1125.1,1237.8 1128.4,1236.3 1131.1,1236.1 1131.7,1235.7 1134.7,1235.4 1136.0,1235.0 1138.7,1234.5 1142.5,1233.1 1143.7,1233.3 1145.6,1232.8 1148.0,1232.4 1150.4,1231.9 1152.3,1232.9 1153.8,1231.5 1156.0,1230.3 1160.4,1230.1 1160.7,1230.1 1164.2,1230.1 1165.1,1228.9 1168.7,1230.8 1170.5,1228.7 1172.1,1230.3 1175.8,1230.7 1175.9,1230.3 1178.6,1232.6 1180.4,1232.9 1182.7,1232.4 1185.1,1234.9 1186.9,1233.2 1189.6,1232.2 1193.0,1231.8 1193.1,1232.0 1195.5,1232.5 1197.9,1232.2 1200.5,1230.5 1203.7,1230.2 1205.7,1229.5 1207.7,1229.2 1209.7,1228.9 1213.2,1229.4 1213.5,1228.4 1215.4,1230.0 1218.4,1229.3 1220.7,1227.7 1222.6,1229.3 1224.4,1230.0 1226.3,1229.8 1229.2,1229.7 1231.1,1229.4 1233.5,1228.4 1235.2,1227.7 1239.1,1230.0 1240.7,1229.7 1243.9,1231.0 1244.4,1230.2 1247.0,1230.1 1249.0,1230.6 1251.4,1228.0 1253.4,1227.9 1255.7,1226.7 1256.6,1226.5 1260.0,1226.0 1262.9,1225.1 1263.2,1223.8 1266.6,1221.6 1269.4,1221.9 1272.1,1221.6 1273.3,1220.8 1275.9,1220.9 1279.0,1218.7 1280.9,1216.5 1281.9,1215.9 1284.0,1215.8 1287.3,1216.1 1289.0,1214.5 1290.6,1216.4 1293.0,1216.3 1295.6,1215.1 1297.5,1215.9 1299.6,1214.4 1301.8,1214.7 1303.2,1213.9 1307.6,1213.8 1309.4,1212.6 1311.9,1213.8 1312.9,1211.5 1315.3,1212.4 1317.8,1212.2 1320.2,1213.2 1320.5,1211.7 1324.2,1209.8 1325.5,1208.6 1328.3,1207.8 1330.1,1206.5 1334.0,1207.4 1335.4,1202.7 1337.2,1203.9 1340.4,1201.0 1341.6,1202.2 1343.3,1200.0 1345.9,1200.8 1347.9,1198.4 1350.4,1198.9 1353.2,1197.2 1354.7,1196.8 1357.0,1195.3 1359.9,1192.0 1361.6,1192.6 1364.3,1191.6 1365.9,1192.8 1367.1,1191.6 1369.4,1190.8 1371.2,1190.7 1375.4,1189.7 1377.1,1188.4 1378.7,1189.2 1380.5,1187.0 1383.7,1185.9 1385.5,1184.0 1388.0,1184.2 1389.4,1183.9 1391.4,1182.7 1395.5,1181.7 1395.9,1181.2 1398.8,1179.7 1401.9,1178.8 1401.9,1180.3 1405.9,1178.6 1407.6,1177.8 1409.7,1178.4 1412.2,1177.2 1413.4,1176.3 1414.9,1174.9 1419.9,1174.9 1420.6,1175.2 1423.6,1175.1 1426.0,1172.9 1427.6,1172.7 1429.9,1172.9 1432.3,1173.0 1435.1,1172.1 1436.5,1171.9 1439.3,1170.5 1440.4,1172.9 1442.5,1170.1 1445.1,1170.6 1447.5,1170.6 1449.8,1170.3 1452.9,1169.1 1454.4,1168.5 1456.0,1168.6 1459.6,1167.2 1460.6,1167.7 1462.8,1168.1 1465.1,1166.0 1466.8,1165.4 1468.4,1165.6 1471.5,1167.0 1473.4,1166.7 1475.2,1165.6 1478.1,1165.8 1480.1,1165.7 1482.0,1166.3 1483.4,1164.2 1486.7,1165.1 1490.2,1165.3 1491.8,1165.6 1494.2,1165.4 1495.6,1165.2 1498.5,1166.2 1499.5,1164.4 1501.9,1169.3 1504.8,1168.0 1505.6,1168.5 1508.8,1167.8 1511.2,1169.4 1514.4,1171.6 1514.9,1172.1 1517.9,1171.4 1519.4,1171.1 1521.6,1172.8 1522.3,1172.8 1525.8,1174.4 1529.4,1173.4 1531.2,1174.7 1533.1,1175.5 1536.9,1175.3 1537.8,1176.8 1538.7,1174.9 1541.7,1175.2 1544.0,1176.0 1547.3,1177.5 1547.8,1176.8 1550.9,1177.3 1553.5,1179.0 1554.4,1179.4 1557.3,1179.1 1558.0,1180.6 1561.7,1181.5 1562.3,1183.0 1565.7,1183.3 1569.4,1183.0 1570.7,1183.9 1572.6,1184.3 1574.9,1185.5 1578.5,1186.2 1579.6,1186.7 1582.1,1188.0 1583.3,1189.2 1585.5,1190.2 1587.3,1190.6 1590.1,1192.5 1591.9,1191.6 1595.3,1193.0 1597.2,1193.4 1598.9,1193.3 1600.8,1194.7 1601.4,1195.8 1605.2,1196.1 1608.0,1196.2 1610.1,1196.5 1610.5,1196.2 1612.7,1197.4 1616.7,1198.2 1618.1,1199.1 1620.9,1196.5 1622.9,1200.1 1625.8,1201.2 1626.3,1202.0 1629.4,1201.9 1632.7,1202.3 1634.3,1201.8 1635.8,1202.3 1638.9,1203.5 1641.0,1203.2 1642.4,1204.4 1645.7,1205.4 1647.9,1204.4 1649.5,1205.5 1652.5,1204.2 1653.2,1205.9 1656.7,1206.4 1658.3,1206.6 1660.0,1206.9 1662.4,1208.2 1665.8,1207.0 1666.8,1209.2 1669.2,1210.1 1671.2,1211.6 1673.3,1210.7 1676.7,1212.0 1679.7,1213.8 1681.3,1215.3 1683.0,1214.4 1685.3,1216.3 1686.8,1216.7 1688.9,1216.5 1690.6,1215.6 1694.6,1215.8 1695.6,1217.3 1697.5,1219.4 1699.8,1218.1 1702.5,1219.7 1704.2,1220.2 1706.8,1218.1 1709.1,1218.7 1712.1,1220.4 1712.5,1220.1 1715.8,1220.1 1717.3,1219.8 1719.7,1220.7 1723.3,1220.4 1724.8,1223.8 1726.3,1222.2 1729.1,1223.2 1731.0,1225.6 1734.0,1227.8 1735.1,1227.1 1737.9,1227.6 1739.7,1226.9 1742.0,1227.8 1744.1,1226.7 1746.0,1226.6 1748.7,1226.0 1751.5,1226.8 1752.6,1228.5 1754.9,1226.8 1757.7,1227.2 1759.1,1229.1 1762.4,1226.8 1764.5,1226.3 1764.6,1227.6 1768.0,1225.8 1769.9,1227.0 1773.4,1227.9 1775.7,1226.8 1776.4,1227.9 1778.9,1230.4 1781.6,1228.7 1783.6,1229.9 1786.5,1231.3 1788.9,1231.2 1790.8,1231.2 1793.4,1233.7 1795.5,1232.4 1797.0,1233.5 1798.9,1233.0 1800.9,1233.1 1804.2,1232.7 1806.4,1234.6 1808.7,1233.5 1810.0,1234.9 1812.1,1233.3 1814.8,1233.8 1817.7,1234.1 1819.3,1234.0 1821.4,1233.5 1822.8,1233.9 1825.9,1232.6 1828.2,1233.8 1829.4,1231.2 1833.4,1233.2 1833.8,1233.8 1837.2,1233.1 1838.7,1232.6 1841.1,1231.4 1842.7,1231.6 1845.0,1230.6 1848.1,1230.4 1849.7,1230.5 1851.8,1227.5 1854.8,1230.8 1856.9,1230.3 1858.7,1230.9 1861.0,1228.9 1864.2,1230.2 1865.1,1229.9 1867.7,1227.7 1869.9,1228.2 1870.8,1230.1 1872.7,1229.9 1876.3,1230.3 1879.0,1229.9 1880.7,1231.2 1882.4,1228.4 1884.6,1228.5 1887.8,1228.7 1889.2,1228.4 1890.5,1229.4 1894.3,1230.0 1896.2,1228.9 1898.5,1230.4 1901.1,1230.9 1903.5,1230.7 1905.2,1231.2 1906.9,1230.6 1907.8,1229.8 1911.6,1230.9 1913.5,1230.3 1916.7,1230.9 1918.9,1229.1 1920.5,1227.6 1923.4,1228.4 1924.6,1229.0 1926.8,1229.2 1928.4,1228.5 1931.0,1229.1 1933.6,1226.7 1936.3,1226.6 1937.3,1227.5 1940.6,1226.7 1943.5,1228.2 1943.8,1226.9 1946.4,1228.1 1948.8,1227.1 1951.7,1227.7 1954.6,1226.2 1956.3,1227.7 1957.6,1227.9 1959.2,1226.3 1962.0,1229.1 1964.2,1229.2 1966.6,1228.0 1968.0,1228.5 1971.9,1229.4 1972.5,1228.7 1975.7,1230.2 1977.6,1230.4 1978.9,1229.2 1981.9,1229.9 1984.0,1230.4 1986.1,1232.1 1989.0,1231.2 1990.3,1232.5 1994.6,1231.4 1995.8,1230.8 1996.6,1233.3 1997.7,1234.3 2002.5,1232.5 2004.0,1232.5 2006.1,1233.7 2007.5,1232.6 2009.4,1233.8 2011.3,1233.4 2016.6,1235.1 2018.1,1235.2 2018.8,1234.8 2022.3,1234.3 2022.7,1234.8 2026.3,1235.1 2028.5,1236.9 2029.6,1235.9 2032.1,1237.0 2033.9,1235.1 2036.8,1235.9 2039.9,1235.7 2041.9,1235.6 2043.7,1236.5 2046.4,1233.8 2046.6,1235.4 2051.4,1234.7 2052.2,1234.0 2053.5,1233.7 2056.3,1233.8 2058.4,1234.4 2061.1,1233.7 2063.4,1232.8 2063.8,1233.5 2068.5,1234.3 2071.0,1234.1 2071.3,1234.2 2075.2,1234.7 2077.3,1234.3 2079.3,1234.4 2081.9,1233.1 2082.0,1234.6 2085.7,1235.5 2086.7,1234.1 2091.1,1234.2 2091.2,1232.9 2093.2,1232.9 2097.0,1232.1 2098.8,1231.6 2100.6,1231.1 2102.9,1229.1 2105.4,1225.7 2108.4,1222.3 2108.9,1216.3 2111.2,1214.8 2113.4,1216.6 2116.0,1219.9 2118.2,1222.8 2119.5,1225.0 2123.5,1224.2 2123.5,1220.0 2123.5,1260.3" stroke="#CC9900"/>
</g>
<g class="tl">
<text x="379.2" y="1623.8">100</text>
<text x="628.3" y="1623.8">200</text>
<text x="877.5" y="1623.8">300</text>
<text x="1126.6" y="1623.8">400</text>
<text x="1375.8" y="1623.8">500</text>
<text x="1625.0" y="1623.8">600</text>
<text x="1874.1" y="1623.8">700</text>
<text x="2123.2" y="1623.8">800</text>
</g>
<g class="lab">
<text x="2100.3" y="760.6">Ni/MgAl<tspan class="sb" dy="16">2</tspan><tspan dy="-16">O</tspan><tspan class="sb" dy="16">4</tspan></text>
<text x="2100.3" y="869.5">Ni/MgO-Al<tspan class="sb" dy="16">2</tspan><tspan dy="-16">O</tspan><tspan class="sb" dy="16">3</tspan></text>
<text x="2100.3" y="983.0">Ni/MgO</text>
<text x="2100.3" y="1087.3">Ni/Al<tspan class="sb" dy="16">2</tspan><tspan dy="-16">O</tspan><tspan class="sb" dy="16">3</tspan></text>
<text x="2100.3" y="1199.0">Commercial B</text>
<text x="2100.3" y="1314.7">Commercial A</text>
</g>
<text class="title" x="1192.1" y="1778.2" text-anchor="middle">Temperature (°C)</text>
<text class="title yt" transform="translate(116.7,1394.6) rotate(-90)">CO<tspan class="sb" dy="26">2</tspan><tspan dy="-26"> desorption amount (a.u.)</tspan></text>
</svg>
</body>
</html>
